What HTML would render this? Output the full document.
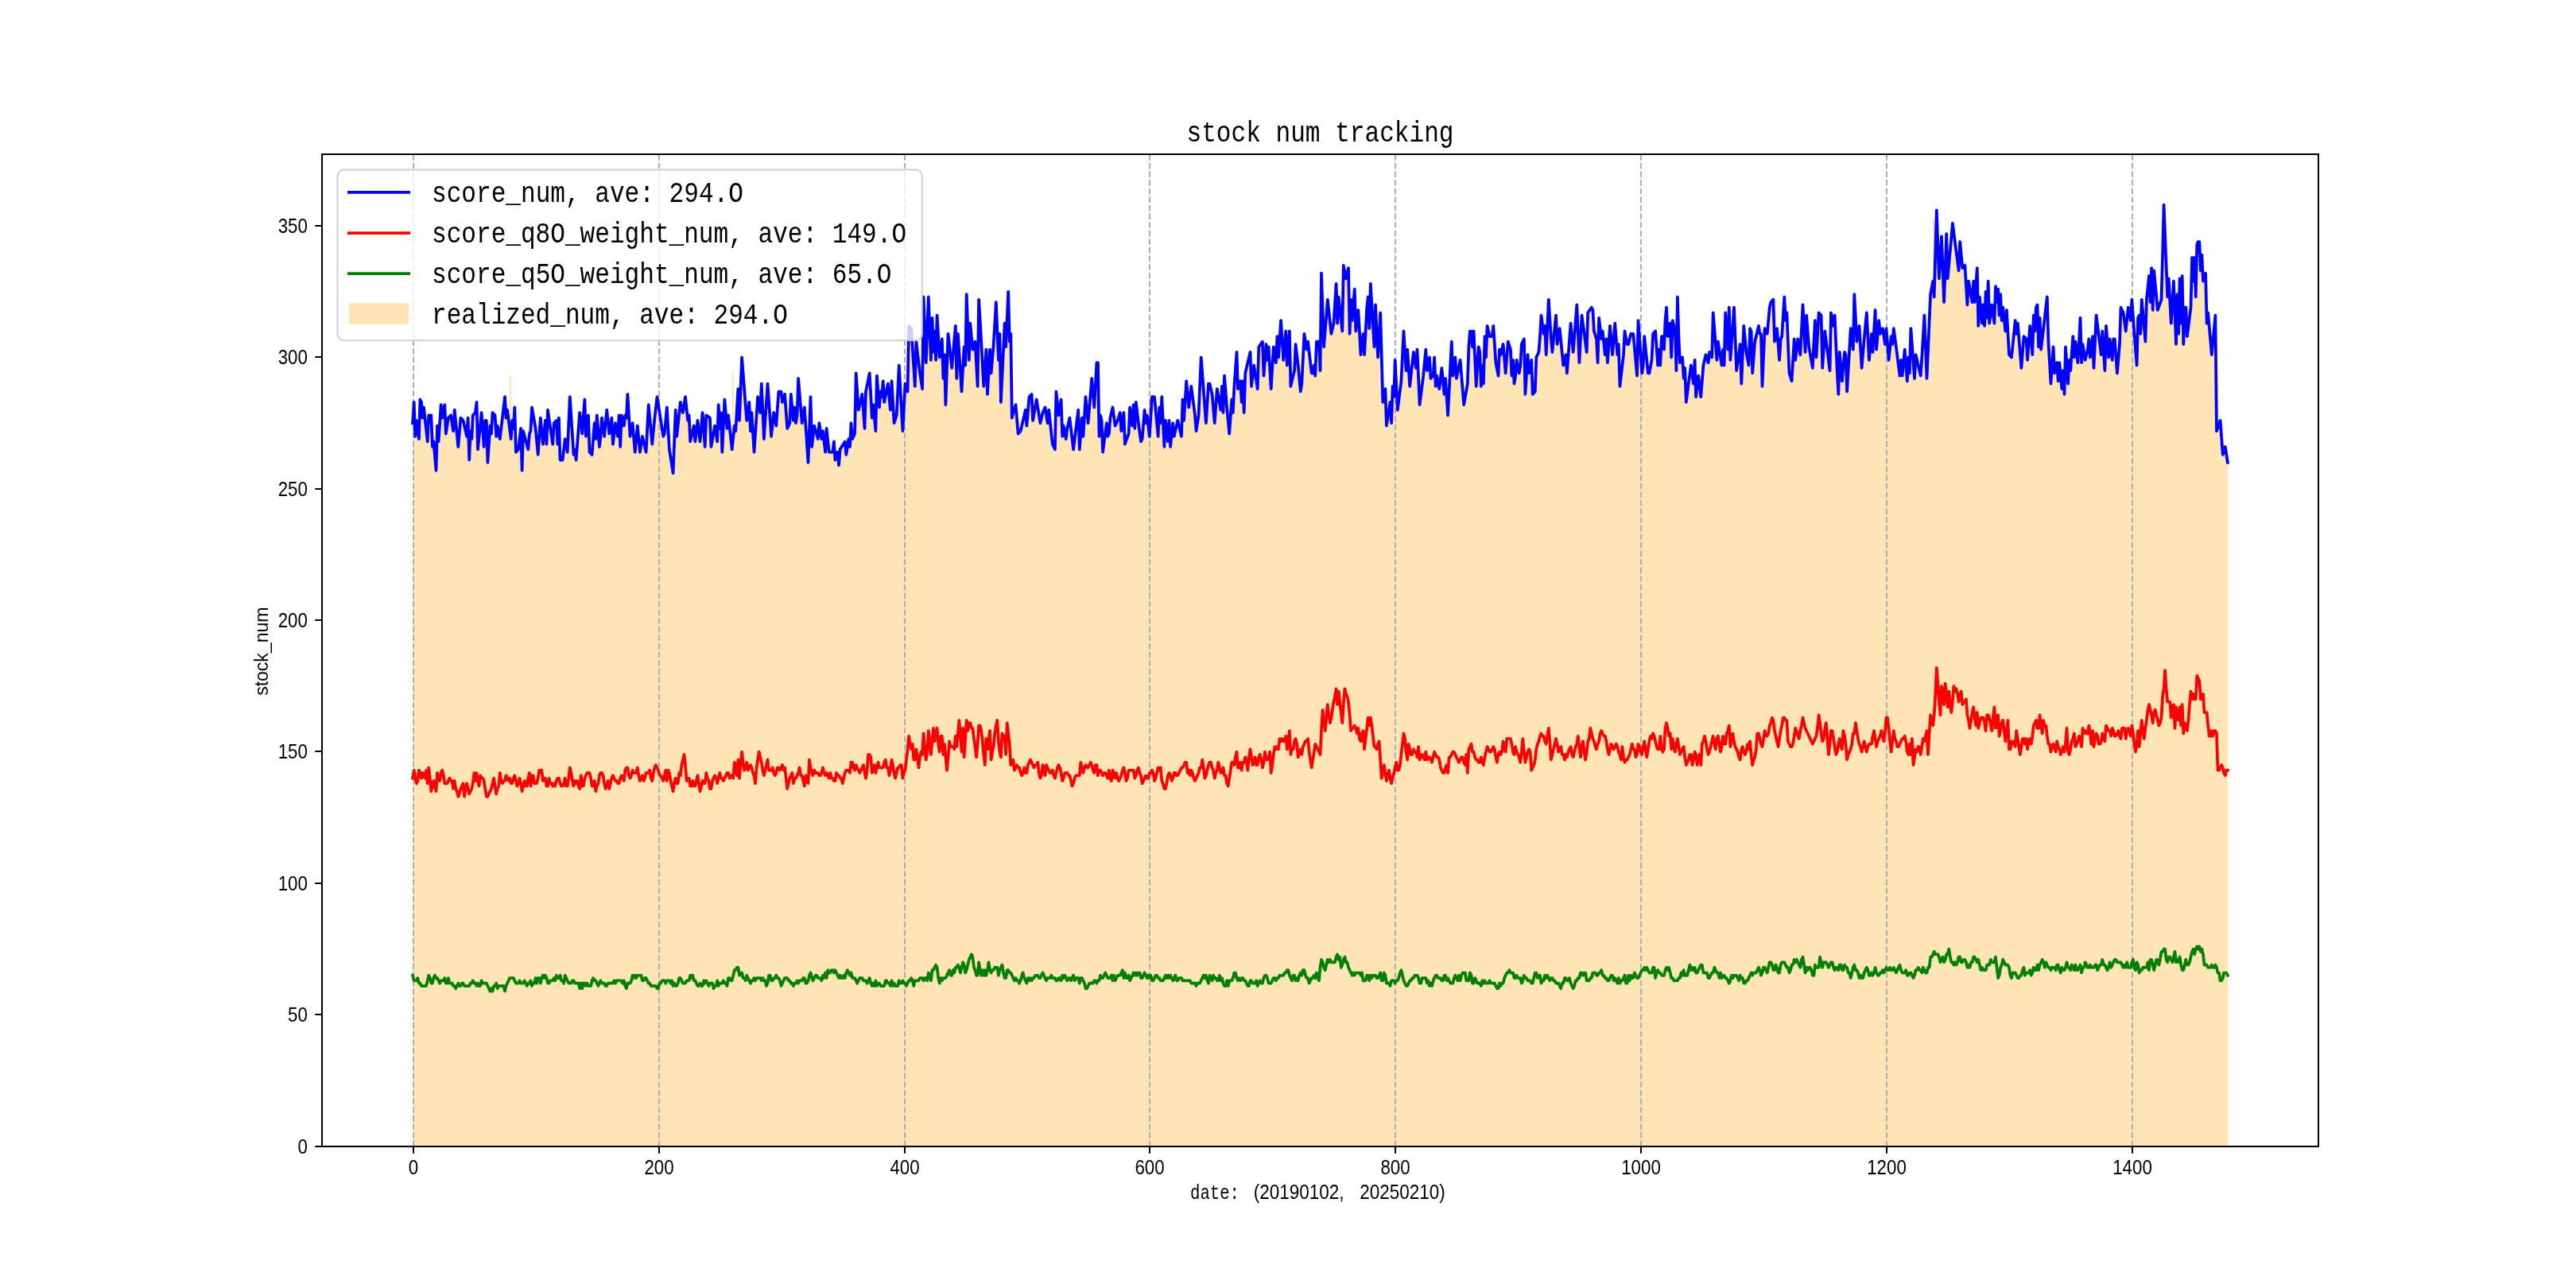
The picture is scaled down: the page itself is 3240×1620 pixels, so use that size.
<!DOCTYPE html><html><head><meta charset="utf-8"><style>html,body{margin:0;padding:0;background:#fff;overflow:hidden}svg{display:block;will-change:transform}</style></head><body><svg width="3240" height="1620" viewBox="0 0 3240 1620">
<rect x="0" y="0" width="3240" height="1620" fill="#ffffff"/>
<defs><clipPath id="ax"><rect x="405.0" y="194.4" width="2511.0" height="1247.6"/></clipPath></defs>
<g clip-path="url(#ax)">
<path d="M519.1,1441.8 L519.1,532.2 520.7,505.8 522.2,548.8 523.8,528.9 526.9,552.1 528.4,502.5 530.0,505.8 531.5,525.6 533.0,512.4 537.7,555.4 539.2,522.3 542.3,522.3 543.9,562.0 545.4,555.4 548.5,591.8 550.0,535.5 551.6,555.4 554.7,509.1 556.2,525.6 559.3,509.1 560.8,545.5 563.9,525.6 567.0,522.3 570.1,542.2 571.7,515.7 576.3,562.0 579.4,525.6 582.5,528.9 587.1,548.8 588.6,525.6 590.2,578.5 591.7,542.2 593.3,552.1 594.8,522.3 597.9,519.0 599.5,505.8 601.0,565.3 605.6,519.0 608.7,562.0 610.3,528.9 611.8,528.9 613.4,581.8 616.4,535.5 618.0,545.5 619.5,519.0 622.6,522.3 624.2,548.8 625.7,535.5 628.8,552.1 635.0,499.2 636.5,525.6 638.1,515.7 642.7,552.1 644.2,528.9 645.8,538.9 647.3,512.4 648.9,568.6 652.0,565.3 655.1,538.9 656.6,591.8 658.1,542.2 664.3,565.3 665.9,545.5 667.4,542.2 669.0,512.4 673.6,538.9 676.7,571.9 679.8,525.6 682.9,558.7 685.9,528.9 687.5,558.7 689.0,515.7 695.2,558.7 696.8,532.2 699.8,528.9 701.4,558.7 702.9,525.6 704.5,578.5 707.6,578.5 710.7,552.1 713.7,568.6 716.8,499.2 721.5,571.9 723.0,565.3 724.6,578.5 729.2,519.0 732.3,545.5 733.8,522.3 735.4,502.5 736.9,548.8 740.0,522.3 741.5,568.6 744.6,571.9 747.7,532.2 749.3,552.1 750.8,522.3 753.9,562.0 755.4,548.8 757.0,525.6 760.1,548.8 763.2,515.7 766.3,545.5 769.3,525.6 770.9,558.7 774.0,532.2 777.1,548.8 778.6,522.3 780.2,562.0 781.7,522.3 784.8,535.5 786.3,522.3 787.9,525.6 789.4,495.9 792.5,548.8 795.6,532.2 798.7,568.6 801.8,535.5 804.9,568.6 808.0,548.8 812.6,568.6 815.7,509.1 820.3,558.7 823.4,525.6 826.5,499.2 834.2,548.8 835.8,545.5 838.8,512.4 841.9,565.3 846.6,595.1 849.7,515.7 851.2,548.8 855.8,505.8 858.9,519.0 862.0,499.2 865.1,528.9 866.6,522.3 868.2,555.4 872.8,535.5 874.4,555.4 877.5,528.9 880.5,555.4 883.6,519.0 886.7,562.0 888.3,522.3 892.9,525.6 894.4,562.0 899.1,535.5 902.2,555.4 903.7,509.1 905.3,538.9 906.8,519.0 908.3,568.6 911.4,502.5 914.5,538.9 916.1,522.3 920.7,565.3 923.8,535.5 925.3,542.2 928.4,489.2 930.0,528.9 933.1,449.5 939.2,528.9 942.3,505.8 943.9,542.2 945.4,519.0 948.5,568.6 953.1,499.2 956.2,519.0 957.8,482.6 960.9,552.1 965.5,482.6 970.1,548.8 973.2,519.0 976.3,535.5 979.4,492.5 982.5,492.5 984.0,505.8 987.1,495.9 990.2,538.9 993.3,532.2 994.8,495.9 997.9,528.9 999.5,512.4 1001.0,532.2 1002.6,522.3 1004.1,476.0 1008.7,532.2 1011.8,512.4 1016.5,581.8 1019.5,499.2 1021.1,562.0 1024.2,535.5 1028.8,552.1 1030.4,532.2 1033.4,552.1 1035.0,542.2 1038.1,568.6 1039.6,538.9 1042.7,568.6 1047.3,568.6 1048.9,555.4 1050.4,578.5 1053.5,568.6 1055.1,585.2 1056.6,565.3 1062.8,555.4 1064.3,571.9 1067.4,552.1 1069.0,562.0 1070.5,532.2 1072.1,552.1 1075.1,545.5 1076.7,469.4 1079.8,515.7 1084.4,495.9 1087.5,538.9 1089.0,492.5 1093.7,469.4 1096.8,525.6 1098.3,509.1 1101.4,542.2 1102.9,472.7 1106.0,512.4 1107.6,492.5 1109.1,499.2 1110.7,479.3 1112.2,505.8 1116.8,482.6 1119.9,515.7 1121.5,479.3 1124.6,532.2 1127.7,522.3 1130.8,459.5 1135.4,542.2 1138.5,482.6 1141.6,492.5 1143.1,409.9 1146.2,413.2 1150.8,485.9 1152.4,429.7 1157.0,469.4 1160.1,489.2 1161.6,373.5 1164.7,456.2 1167.8,373.5 1170.9,452.9 1172.5,399.9 1174.0,442.9 1175.5,416.5 1177.1,452.9 1178.6,396.6 1181.7,449.5 1184.8,426.4 1186.4,476.0 1187.9,446.2 1189.4,509.1 1192.5,419.8 1197.2,462.8 1201.8,409.9 1203.3,476.0 1204.9,419.8 1209.5,492.5 1212.6,436.3 1214.2,459.5 1215.7,370.2 1218.8,452.9 1220.3,406.6 1223.4,439.6 1226.5,429.7 1229.6,485.9 1231.1,376.8 1232.7,403.2 1237.3,485.9 1240.4,439.6 1242.0,495.9 1245.0,439.6 1246.6,469.4 1249.7,433.0 1252.8,380.1 1255.9,452.9 1257.4,419.8 1258.9,505.8 1263.6,406.6 1265.1,436.3 1268.2,366.9 1269.8,429.7 1271.3,419.8 1272.8,525.6 1274.4,519.0 1277.5,509.1 1280.6,545.5 1283.7,542.2 1289.8,515.7 1291.4,535.5 1294.5,499.2 1297.6,495.9 1299.1,528.9 1303.7,502.5 1308.4,532.2 1311.5,519.0 1314.5,512.4 1317.6,532.2 1319.2,515.7 1323.8,558.7 1326.9,565.3 1328.4,492.5 1331.5,522.3 1334.6,502.5 1336.2,548.8 1337.7,535.5 1340.8,552.1 1342.3,538.9 1345.4,525.6 1350.1,565.3 1356.2,515.7 1357.8,565.3 1360.9,525.6 1362.4,548.8 1365.5,499.2 1368.6,532.2 1373.2,476.0 1376.3,512.4 1379.4,456.2 1381.0,456.2 1382.5,548.8 1384.0,522.3 1385.6,528.9 1387.1,568.6 1391.8,532.2 1393.3,548.8 1394.9,545.5 1396.4,525.6 1399.5,512.4 1402.6,535.5 1405.7,528.9 1408.8,519.0 1410.3,542.2 1413.4,519.0 1414.9,558.7 1419.6,545.5 1421.1,512.4 1424.2,535.5 1425.7,509.1 1427.3,538.9 1428.8,505.8 1431.9,532.2 1435.0,555.4 1436.6,552.1 1439.6,515.7 1441.2,532.2 1442.7,522.3 1445.8,548.8 1448.9,499.2 1452.0,499.2 1456.6,548.8 1458.2,512.4 1459.7,532.2 1461.3,499.2 1464.4,562.0 1465.9,528.9 1469.0,555.4 1470.5,528.9 1472.1,562.0 1475.2,532.2 1476.7,548.8 1481.3,528.9 1486.0,548.8 1487.5,502.5 1489.1,528.9 1492.2,479.3 1495.2,512.4 1498.3,485.9 1503.0,522.3 1504.5,542.2 1507.6,522.3 1510.7,449.5 1516.9,532.2 1520.0,482.6 1521.5,482.6 1524.6,495.9 1527.7,532.2 1530.8,489.2 1535.4,515.7 1536.9,485.9 1538.5,519.0 1540.0,472.7 1543.1,512.4 1546.2,545.5 1549.3,502.5 1550.8,519.0 1552.4,485.9 1555.5,442.9 1557.0,489.2 1560.1,479.3 1561.7,505.8 1563.2,479.3 1564.7,519.0 1566.3,469.4 1567.8,462.8 1572.5,442.9 1574.0,485.9 1577.1,459.5 1581.7,489.2 1583.3,436.3 1587.9,429.7 1589.5,472.7 1592.5,433.0 1594.1,452.9 1595.6,436.3 1598.7,489.2 1601.8,436.3 1604.9,456.2 1606.4,423.1 1608.0,449.5 1611.1,403.2 1612.6,426.4 1614.2,452.9 1617.3,416.5 1618.8,459.5 1621.9,416.5 1623.4,485.9 1628.1,466.1 1629.6,433.0 1632.7,459.5 1635.8,492.5 1637.3,482.6 1640.4,419.8 1643.5,439.6 1645.1,429.7 1649.7,469.4 1651.2,469.4 1652.8,459.5 1654.3,472.7 1655.9,429.7 1659.0,429.7 1660.5,466.1 1662.0,343.7 1665.1,436.3 1669.8,376.8 1674.4,419.8 1677.5,406.6 1680.6,356.9 1682.1,406.6 1683.7,373.5 1688.3,416.5 1689.8,333.8 1692.9,350.3 1696.0,337.1 1697.6,419.8 1699.1,376.8 1700.7,403.2 1703.7,363.6 1705.3,416.5 1708.4,390.0 1711.5,446.2 1714.6,419.8 1716.1,446.2 1719.2,386.7 1720.7,373.5 1722.3,413.2 1723.8,356.9 1728.5,436.3 1730.0,383.4 1733.1,449.5 1736.2,393.3 1739.3,505.8 1742.4,489.2 1743.9,535.5 1748.5,505.8 1750.1,532.2 1751.6,485.9 1753.2,499.2 1754.7,452.9 1757.8,515.7 1762.4,479.3 1765.5,416.5 1768.6,466.1 1770.2,439.6 1773.2,485.9 1777.9,442.9 1781.0,462.8 1782.5,439.6 1785.6,509.1 1790.2,472.7 1793.3,439.6 1794.9,466.1 1798.0,449.5 1799.5,476.0 1802.6,472.7 1804.1,449.5 1805.7,485.9 1807.2,472.7 1810.3,489.2 1813.4,462.8 1816.5,495.9 1818.0,476.0 1821.1,522.3 1825.8,429.7 1827.3,472.7 1830.4,449.5 1831.9,476.0 1836.6,452.9 1841.2,509.1 1845.8,482.6 1847.4,436.3 1848.9,416.5 1850.5,416.5 1852.0,436.3 1853.6,416.5 1856.7,485.9 1859.7,436.3 1861.3,442.9 1862.8,485.9 1864.4,459.5 1865.9,482.6 1867.5,423.1 1869.0,449.5 1870.6,409.9 1873.6,423.1 1876.7,423.1 1878.3,409.9 1881.4,456.2 1884.5,472.7 1886.0,439.6 1887.5,446.2 1890.6,433.0 1893.7,469.4 1896.8,429.7 1899.9,439.6 1901.4,472.7 1903.0,452.9 1904.5,482.6 1906.1,472.7 1907.6,452.9 1910.7,469.4 1912.3,459.5 1913.8,433.0 1916.9,426.4 1918.4,495.9 1921.5,446.2 1923.1,469.4 1926.2,452.9 1927.7,495.9 1930.8,492.5 1932.3,449.5 1935.4,442.9 1937.0,423.1 1938.5,396.6 1941.6,419.8 1943.1,409.9 1944.7,446.2 1947.8,376.8 1950.9,426.4 1952.4,442.9 1957.0,396.6 1958.6,433.0 1961.7,413.2 1966.3,459.5 1969.4,446.2 1970.9,469.4 1975.6,406.6 1978.7,442.9 1983.3,383.4 1986.4,456.2 1989.5,396.6 1995.7,442.9 1997.2,393.3 2001.8,386.7 2003.4,390.0 2004.9,416.5 2008.0,426.4 2009.6,456.2 2011.1,399.9 2014.2,426.4 2015.7,416.5 2018.8,446.2 2020.4,426.4 2021.9,456.2 2025.0,409.9 2028.1,446.2 2031.2,406.6 2034.3,446.2 2035.8,433.0 2037.4,485.9 2042.0,446.2 2043.5,416.5 2046.6,433.0 2048.2,433.0 2051.3,419.8 2054.3,419.8 2059.0,472.7 2060.5,403.2 2065.2,469.4 2066.7,459.5 2068.2,423.1 2072.9,469.4 2074.4,469.4 2077.5,452.9 2079.1,419.8 2082.1,416.5 2085.2,459.5 2086.8,439.6 2088.3,459.5 2089.9,423.1 2091.4,423.1 2093.0,439.6 2094.5,403.2 2096.0,386.7 2097.6,423.1 2100.7,406.6 2102.2,449.5 2103.8,403.2 2106.9,416.5 2108.4,466.1 2109.9,373.5 2111.5,426.4 2113.0,456.2 2116.1,449.5 2117.7,476.0 2119.2,462.8 2120.8,505.8 2123.8,482.6 2126.9,459.5 2130.0,482.6 2131.6,452.9 2133.1,499.2 2136.2,472.7 2139.3,499.2 2142.4,459.5 2145.5,446.2 2148.6,456.2 2150.1,442.9 2153.2,449.5 2154.7,393.3 2159.4,452.9 2160.9,429.7 2165.5,459.5 2167.1,439.6 2168.6,459.5 2170.2,393.3 2173.3,439.6 2174.8,386.7 2176.4,452.9 2181.0,386.7 2184.1,466.1 2188.7,433.0 2190.3,482.6 2193.3,409.9 2196.4,442.9 2199.5,459.5 2201.1,413.2 2202.6,416.5 2204.2,469.4 2207.2,429.7 2211.9,409.9 2213.4,419.8 2215.0,419.8 2216.5,485.9 2219.6,413.2 2222.7,419.8 2225.8,386.7 2227.3,380.1 2230.4,376.8 2232.0,429.7 2235.0,413.2 2238.1,452.9 2239.7,426.4 2241.2,423.1 2244.3,373.5 2245.9,403.2 2247.4,393.3 2250.5,469.4 2253.6,479.3 2256.7,426.4 2258.2,452.9 2261.3,426.4 2264.4,446.2 2267.5,383.4 2270.6,442.9 2272.1,396.6 2275.2,436.3 2279.8,462.8 2282.9,403.2 2284.5,449.5 2287.6,393.3 2290.6,396.6 2292.2,462.8 2295.3,416.5 2301.5,466.1 2303.0,393.3 2306.1,409.9 2307.6,396.6 2310.7,466.1 2312.3,495.9 2313.8,442.9 2316.9,479.3 2320.0,442.9 2321.5,446.2 2323.1,492.5 2327.7,413.2 2330.8,439.6 2332.3,370.2 2335.4,429.7 2338.5,409.9 2341.6,462.8 2344.7,426.4 2347.8,393.3 2350.9,452.9 2354.0,419.8 2355.5,442.9 2358.6,390.0 2360.1,439.6 2363.2,403.2 2364.8,419.8 2367.9,413.2 2371.0,433.0 2372.5,413.2 2375.6,452.9 2378.7,423.1 2380.2,433.0 2381.8,413.2 2384.9,436.3 2389.5,472.7 2391.0,452.9 2392.6,472.7 2395.7,439.6 2398.8,479.3 2400.3,449.5 2401.8,469.4 2403.4,413.2 2408.0,476.0 2409.6,446.2 2415.7,472.7 2417.3,449.5 2420.4,396.6 2423.5,476.0 2428.1,370.2 2431.2,353.6 2432.7,373.5 2435.8,264.3 2438.9,350.3 2442.0,297.4 2445.1,380.1 2448.2,294.1 2449.7,350.3 2455.9,280.9 2463.6,340.4 2465.2,304.0 2468.3,337.1 2471.4,333.8 2474.4,383.4 2476.0,353.6 2480.6,380.1 2482.2,353.6 2483.7,380.1 2486.8,337.1 2488.3,409.9 2489.9,373.5 2493.0,406.6 2494.5,383.4 2496.1,409.9 2497.6,366.9 2499.2,399.9 2500.7,353.6 2502.2,406.6 2505.3,383.4 2508.4,406.6 2510.0,360.2 2511.5,380.1 2513.1,363.6 2514.6,396.6 2516.1,370.2 2517.7,403.2 2519.2,386.7 2522.3,416.5 2523.9,390.0 2527.0,446.2 2530.0,449.5 2534.7,403.2 2536.2,419.8 2537.8,406.6 2542.4,462.8 2545.5,423.1 2548.6,426.4 2550.1,452.9 2553.2,409.9 2556.3,446.2 2557.8,396.6 2559.4,416.5 2560.9,386.7 2562.5,383.4 2564.0,436.3 2565.6,399.9 2567.1,439.6 2570.2,413.2 2574.8,373.5 2576.4,429.7 2579.5,482.6 2582.6,436.3 2584.1,469.4 2587.2,456.2 2588.7,479.3 2590.3,456.2 2593.4,489.2 2594.9,466.1 2596.5,495.9 2598.0,436.3 2601.1,482.6 2602.6,452.9 2604.2,466.1 2607.3,423.1 2608.8,449.5 2610.4,429.7 2613.4,456.2 2615.0,429.7 2616.5,399.9 2618.1,456.2 2619.6,433.0 2622.7,452.9 2625.8,439.6 2627.3,426.4 2628.9,449.5 2632.0,423.1 2633.5,462.8 2636.6,396.6 2642.8,446.2 2644.3,416.5 2647.4,466.1 2649.0,409.9 2652.1,449.5 2653.6,426.4 2656.7,452.9 2658.2,426.4 2659.8,426.4 2662.9,469.4 2666.0,433.0 2667.5,386.7 2670.6,393.3 2673.7,416.5 2676.8,386.7 2679.9,403.2 2681.4,376.8 2684.5,419.8 2687.6,459.5 2689.1,399.9 2690.7,396.6 2692.2,419.8 2693.8,376.8 2698.4,429.7 2699.9,376.8 2703.0,347.0 2704.6,380.1 2706.1,337.1 2707.7,390.0 2709.2,340.4 2713.8,390.0 2718.5,376.8 2720.0,323.9 2721.6,257.7 2726.2,373.5 2727.7,350.3 2730.8,406.6 2733.9,353.6 2737.0,433.0 2738.5,370.2 2740.1,419.8 2741.6,350.3 2743.2,406.6 2744.7,347.0 2746.3,433.0 2747.8,386.7 2749.4,386.7 2750.9,423.1 2755.5,386.7 2757.1,323.9 2758.6,353.6 2760.2,323.9 2761.7,373.5 2763.3,307.3 2764.8,304.0 2766.3,304.0 2767.9,340.4 2769.4,320.6 2771.0,353.6 2774.1,343.7 2775.6,406.6 2777.2,393.3 2781.8,446.2 2786.4,396.6 2788.0,542.2 2792.6,528.9 2795.7,571.9 2798.8,562.0 2801.9,581.8 L2801.9,1441.8 Z" fill="#ffe4b5" stroke="none"/>
<path d="M641.0,472.0 h2 V592.0 h-2 Z M920.7,469.0 h2 V589.0 h-2 Z M2431.0,277.0 h2 V397.0 h-2 Z" fill="#ffe4b5" stroke="none"/>
<line x1="520.00" y1="1442.0" x2="520.00" y2="194.4" stroke="#b0b0b0" stroke-width="2" stroke-dasharray="7.4,3.2"/>
<line x1="829.00" y1="1442.0" x2="829.00" y2="194.4" stroke="#b0b0b0" stroke-width="2" stroke-dasharray="7.4,3.2"/>
<line x1="1138.00" y1="1442.0" x2="1138.00" y2="194.4" stroke="#b0b0b0" stroke-width="2" stroke-dasharray="7.4,3.2"/>
<line x1="1446.00" y1="1442.0" x2="1446.00" y2="194.4" stroke="#b0b0b0" stroke-width="2" stroke-dasharray="7.4,3.2"/>
<line x1="1755.00" y1="1442.0" x2="1755.00" y2="194.4" stroke="#b0b0b0" stroke-width="2" stroke-dasharray="7.4,3.2"/>
<line x1="2064.00" y1="1442.0" x2="2064.00" y2="194.4" stroke="#b0b0b0" stroke-width="2" stroke-dasharray="7.4,3.2"/>
<line x1="2373.00" y1="1442.0" x2="2373.00" y2="194.4" stroke="#b0b0b0" stroke-width="2" stroke-dasharray="7.4,3.2"/>
<line x1="2682.00" y1="1442.0" x2="2682.00" y2="194.4" stroke="#b0b0b0" stroke-width="2" stroke-dasharray="7.4,3.2"/>
<path d="M519.1,532.2 520.7,505.8 522.2,548.8 523.8,528.9 526.9,552.1 528.4,502.5 530.0,505.8 531.5,525.6 533.0,512.4 537.7,555.4 539.2,522.3 542.3,522.3 543.9,562.0 545.4,555.4 548.5,591.8 550.0,535.5 551.6,555.4 554.7,509.1 556.2,525.6 559.3,509.1 560.8,545.5 563.9,525.6 567.0,522.3 570.1,542.2 571.7,515.7 576.3,562.0 579.4,525.6 582.5,528.9 587.1,548.8 588.6,525.6 590.2,578.5 591.7,542.2 593.3,552.1 594.8,522.3 597.9,519.0 599.5,505.8 601.0,565.3 605.6,519.0 608.7,562.0 610.3,528.9 611.8,528.9 613.4,581.8 616.4,535.5 618.0,545.5 619.5,519.0 622.6,522.3 624.2,548.8 625.7,535.5 628.8,552.1 635.0,499.2 636.5,525.6 638.1,515.7 642.7,552.1 644.2,528.9 645.8,538.9 647.3,512.4 648.9,568.6 652.0,565.3 655.1,538.9 656.6,591.8 658.1,542.2 664.3,565.3 665.9,545.5 667.4,542.2 669.0,512.4 673.6,538.9 676.7,571.9 679.8,525.6 682.9,558.7 685.9,528.9 687.5,558.7 689.0,515.7 695.2,558.7 696.8,532.2 699.8,528.9 701.4,558.7 702.9,525.6 704.5,578.5 707.6,578.5 710.7,552.1 713.7,568.6 716.8,499.2 721.5,571.9 723.0,565.3 724.6,578.5 729.2,519.0 732.3,545.5 733.8,522.3 735.4,502.5 736.9,548.8 740.0,522.3 741.5,568.6 744.6,571.9 747.7,532.2 749.3,552.1 750.8,522.3 753.9,562.0 755.4,548.8 757.0,525.6 760.1,548.8 763.2,515.7 766.3,545.5 769.3,525.6 770.9,558.7 774.0,532.2 777.1,548.8 778.6,522.3 780.2,562.0 781.7,522.3 784.8,535.5 786.3,522.3 787.9,525.6 789.4,495.9 792.5,548.8 795.6,532.2 798.7,568.6 801.8,535.5 804.9,568.6 808.0,548.8 812.6,568.6 815.7,509.1 820.3,558.7 823.4,525.6 826.5,499.2 834.2,548.8 835.8,545.5 838.8,512.4 841.9,565.3 846.6,595.1 849.7,515.7 851.2,548.8 855.8,505.8 858.9,519.0 862.0,499.2 865.1,528.9 866.6,522.3 868.2,555.4 872.8,535.5 874.4,555.4 877.5,528.9 880.5,555.4 883.6,519.0 886.7,562.0 888.3,522.3 892.9,525.6 894.4,562.0 899.1,535.5 902.2,555.4 903.7,509.1 905.3,538.9 906.8,519.0 908.3,568.6 911.4,502.5 914.5,538.9 916.1,522.3 920.7,565.3 923.8,535.5 925.3,542.2 928.4,489.2 930.0,528.9 933.1,449.5 939.2,528.9 942.3,505.8 943.9,542.2 945.4,519.0 948.5,568.6 953.1,499.2 956.2,519.0 957.8,482.6 960.9,552.1 965.5,482.6 970.1,548.8 973.2,519.0 976.3,535.5 979.4,492.5 982.5,492.5 984.0,505.8 987.1,495.9 990.2,538.9 993.3,532.2 994.8,495.9 997.9,528.9 999.5,512.4 1001.0,532.2 1002.6,522.3 1004.1,476.0 1008.7,532.2 1011.8,512.4 1016.5,581.8 1019.5,499.2 1021.1,562.0 1024.2,535.5 1028.8,552.1 1030.4,532.2 1033.4,552.1 1035.0,542.2 1038.1,568.6 1039.6,538.9 1042.7,568.6 1047.3,568.6 1048.9,555.4 1050.4,578.5 1053.5,568.6 1055.1,585.2 1056.6,565.3 1062.8,555.4 1064.3,571.9 1067.4,552.1 1069.0,562.0 1070.5,532.2 1072.1,552.1 1075.1,545.5 1076.7,469.4 1079.8,515.7 1084.4,495.9 1087.5,538.9 1089.0,492.5 1093.7,469.4 1096.8,525.6 1098.3,509.1 1101.4,542.2 1102.9,472.7 1106.0,512.4 1107.6,492.5 1109.1,499.2 1110.7,479.3 1112.2,505.8 1116.8,482.6 1119.9,515.7 1121.5,479.3 1124.6,532.2 1127.7,522.3 1130.8,459.5 1135.4,542.2 1138.5,482.6 1141.6,492.5 1143.1,409.9 1146.2,413.2 1150.8,485.9 1152.4,429.7 1157.0,469.4 1160.1,489.2 1161.6,373.5 1164.7,456.2 1167.8,373.5 1170.9,452.9 1172.5,399.9 1174.0,442.9 1175.5,416.5 1177.1,452.9 1178.6,396.6 1181.7,449.5 1184.8,426.4 1186.4,476.0 1187.9,446.2 1189.4,509.1 1192.5,419.8 1197.2,462.8 1201.8,409.9 1203.3,476.0 1204.9,419.8 1209.5,492.5 1212.6,436.3 1214.2,459.5 1215.7,370.2 1218.8,452.9 1220.3,406.6 1223.4,439.6 1226.5,429.7 1229.6,485.9 1231.1,376.8 1232.7,403.2 1237.3,485.9 1240.4,439.6 1242.0,495.9 1245.0,439.6 1246.6,469.4 1249.7,433.0 1252.8,380.1 1255.9,452.9 1257.4,419.8 1258.9,505.8 1263.6,406.6 1265.1,436.3 1268.2,366.9 1269.8,429.7 1271.3,419.8 1272.8,525.6 1274.4,519.0 1277.5,509.1 1280.6,545.5 1283.7,542.2 1289.8,515.7 1291.4,535.5 1294.5,499.2 1297.6,495.9 1299.1,528.9 1303.7,502.5 1308.4,532.2 1311.5,519.0 1314.5,512.4 1317.6,532.2 1319.2,515.7 1323.8,558.7 1326.9,565.3 1328.4,492.5 1331.5,522.3 1334.6,502.5 1336.2,548.8 1337.7,535.5 1340.8,552.1 1342.3,538.9 1345.4,525.6 1350.1,565.3 1356.2,515.7 1357.8,565.3 1360.9,525.6 1362.4,548.8 1365.5,499.2 1368.6,532.2 1373.2,476.0 1376.3,512.4 1379.4,456.2 1381.0,456.2 1382.5,548.8 1384.0,522.3 1385.6,528.9 1387.1,568.6 1391.8,532.2 1393.3,548.8 1394.9,545.5 1396.4,525.6 1399.5,512.4 1402.6,535.5 1405.7,528.9 1408.8,519.0 1410.3,542.2 1413.4,519.0 1414.9,558.7 1419.6,545.5 1421.1,512.4 1424.2,535.5 1425.7,509.1 1427.3,538.9 1428.8,505.8 1431.9,532.2 1435.0,555.4 1436.6,552.1 1439.6,515.7 1441.2,532.2 1442.7,522.3 1445.8,548.8 1448.9,499.2 1452.0,499.2 1456.6,548.8 1458.2,512.4 1459.7,532.2 1461.3,499.2 1464.4,562.0 1465.9,528.9 1469.0,555.4 1470.5,528.9 1472.1,562.0 1475.2,532.2 1476.7,548.8 1481.3,528.9 1486.0,548.8 1487.5,502.5 1489.1,528.9 1492.2,479.3 1495.2,512.4 1498.3,485.9 1503.0,522.3 1504.5,542.2 1507.6,522.3 1510.7,449.5 1516.9,532.2 1520.0,482.6 1521.5,482.6 1524.6,495.9 1527.7,532.2 1530.8,489.2 1535.4,515.7 1536.9,485.9 1538.5,519.0 1540.0,472.7 1543.1,512.4 1546.2,545.5 1549.3,502.5 1550.8,519.0 1552.4,485.9 1555.5,442.9 1557.0,489.2 1560.1,479.3 1561.7,505.8 1563.2,479.3 1564.7,519.0 1566.3,469.4 1567.8,462.8 1572.5,442.9 1574.0,485.9 1577.1,459.5 1581.7,489.2 1583.3,436.3 1587.9,429.7 1589.5,472.7 1592.5,433.0 1594.1,452.9 1595.6,436.3 1598.7,489.2 1601.8,436.3 1604.9,456.2 1606.4,423.1 1608.0,449.5 1611.1,403.2 1612.6,426.4 1614.2,452.9 1617.3,416.5 1618.8,459.5 1621.9,416.5 1623.4,485.9 1628.1,466.1 1629.6,433.0 1632.7,459.5 1635.8,492.5 1637.3,482.6 1640.4,419.8 1643.5,439.6 1645.1,429.7 1649.7,469.4 1651.2,469.4 1652.8,459.5 1654.3,472.7 1655.9,429.7 1659.0,429.7 1660.5,466.1 1662.0,343.7 1665.1,436.3 1669.8,376.8 1674.4,419.8 1677.5,406.6 1680.6,356.9 1682.1,406.6 1683.7,373.5 1688.3,416.5 1689.8,333.8 1692.9,350.3 1696.0,337.1 1697.6,419.8 1699.1,376.8 1700.7,403.2 1703.7,363.6 1705.3,416.5 1708.4,390.0 1711.5,446.2 1714.6,419.8 1716.1,446.2 1719.2,386.7 1720.7,373.5 1722.3,413.2 1723.8,356.9 1728.5,436.3 1730.0,383.4 1733.1,449.5 1736.2,393.3 1739.3,505.8 1742.4,489.2 1743.9,535.5 1748.5,505.8 1750.1,532.2 1751.6,485.9 1753.2,499.2 1754.7,452.9 1757.8,515.7 1762.4,479.3 1765.5,416.5 1768.6,466.1 1770.2,439.6 1773.2,485.9 1777.9,442.9 1781.0,462.8 1782.5,439.6 1785.6,509.1 1790.2,472.7 1793.3,439.6 1794.9,466.1 1798.0,449.5 1799.5,476.0 1802.6,472.7 1804.1,449.5 1805.7,485.9 1807.2,472.7 1810.3,489.2 1813.4,462.8 1816.5,495.9 1818.0,476.0 1821.1,522.3 1825.8,429.7 1827.3,472.7 1830.4,449.5 1831.9,476.0 1836.6,452.9 1841.2,509.1 1845.8,482.6 1847.4,436.3 1848.9,416.5 1850.5,416.5 1852.0,436.3 1853.6,416.5 1856.7,485.9 1859.7,436.3 1861.3,442.9 1862.8,485.9 1864.4,459.5 1865.9,482.6 1867.5,423.1 1869.0,449.5 1870.6,409.9 1873.6,423.1 1876.7,423.1 1878.3,409.9 1881.4,456.2 1884.5,472.7 1886.0,439.6 1887.5,446.2 1890.6,433.0 1893.7,469.4 1896.8,429.7 1899.9,439.6 1901.4,472.7 1903.0,452.9 1904.5,482.6 1906.1,472.7 1907.6,452.9 1910.7,469.4 1912.3,459.5 1913.8,433.0 1916.9,426.4 1918.4,495.9 1921.5,446.2 1923.1,469.4 1926.2,452.9 1927.7,495.9 1930.8,492.5 1932.3,449.5 1935.4,442.9 1937.0,423.1 1938.5,396.6 1941.6,419.8 1943.1,409.9 1944.7,446.2 1947.8,376.8 1950.9,426.4 1952.4,442.9 1957.0,396.6 1958.6,433.0 1961.7,413.2 1966.3,459.5 1969.4,446.2 1970.9,469.4 1975.6,406.6 1978.7,442.9 1983.3,383.4 1986.4,456.2 1989.5,396.6 1995.7,442.9 1997.2,393.3 2001.8,386.7 2003.4,390.0 2004.9,416.5 2008.0,426.4 2009.6,456.2 2011.1,399.9 2014.2,426.4 2015.7,416.5 2018.8,446.2 2020.4,426.4 2021.9,456.2 2025.0,409.9 2028.1,446.2 2031.2,406.6 2034.3,446.2 2035.8,433.0 2037.4,485.9 2042.0,446.2 2043.5,416.5 2046.6,433.0 2048.2,433.0 2051.3,419.8 2054.3,419.8 2059.0,472.7 2060.5,403.2 2065.2,469.4 2066.7,459.5 2068.2,423.1 2072.9,469.4 2074.4,469.4 2077.5,452.9 2079.1,419.8 2082.1,416.5 2085.2,459.5 2086.8,439.6 2088.3,459.5 2089.9,423.1 2091.4,423.1 2093.0,439.6 2094.5,403.2 2096.0,386.7 2097.6,423.1 2100.7,406.6 2102.2,449.5 2103.8,403.2 2106.9,416.5 2108.4,466.1 2109.9,373.5 2111.5,426.4 2113.0,456.2 2116.1,449.5 2117.7,476.0 2119.2,462.8 2120.8,505.8 2123.8,482.6 2126.9,459.5 2130.0,482.6 2131.6,452.9 2133.1,499.2 2136.2,472.7 2139.3,499.2 2142.4,459.5 2145.5,446.2 2148.6,456.2 2150.1,442.9 2153.2,449.5 2154.7,393.3 2159.4,452.9 2160.9,429.7 2165.5,459.5 2167.1,439.6 2168.6,459.5 2170.2,393.3 2173.3,439.6 2174.8,386.7 2176.4,452.9 2181.0,386.7 2184.1,466.1 2188.7,433.0 2190.3,482.6 2193.3,409.9 2196.4,442.9 2199.5,459.5 2201.1,413.2 2202.6,416.5 2204.2,469.4 2207.2,429.7 2211.9,409.9 2213.4,419.8 2215.0,419.8 2216.5,485.9 2219.6,413.2 2222.7,419.8 2225.8,386.7 2227.3,380.1 2230.4,376.8 2232.0,429.7 2235.0,413.2 2238.1,452.9 2239.7,426.4 2241.2,423.1 2244.3,373.5 2245.9,403.2 2247.4,393.3 2250.5,469.4 2253.6,479.3 2256.7,426.4 2258.2,452.9 2261.3,426.4 2264.4,446.2 2267.5,383.4 2270.6,442.9 2272.1,396.6 2275.2,436.3 2279.8,462.8 2282.9,403.2 2284.5,449.5 2287.6,393.3 2290.6,396.6 2292.2,462.8 2295.3,416.5 2301.5,466.1 2303.0,393.3 2306.1,409.9 2307.6,396.6 2310.7,466.1 2312.3,495.9 2313.8,442.9 2316.9,479.3 2320.0,442.9 2321.5,446.2 2323.1,492.5 2327.7,413.2 2330.8,439.6 2332.3,370.2 2335.4,429.7 2338.5,409.9 2341.6,462.8 2344.7,426.4 2347.8,393.3 2350.9,452.9 2354.0,419.8 2355.5,442.9 2358.6,390.0 2360.1,439.6 2363.2,403.2 2364.8,419.8 2367.9,413.2 2371.0,433.0 2372.5,413.2 2375.6,452.9 2378.7,423.1 2380.2,433.0 2381.8,413.2 2384.9,436.3 2389.5,472.7 2391.0,452.9 2392.6,472.7 2395.7,439.6 2398.8,479.3 2400.3,449.5 2401.8,469.4 2403.4,413.2 2408.0,476.0 2409.6,446.2 2415.7,472.7 2417.3,449.5 2420.4,396.6 2423.5,476.0 2428.1,370.2 2431.2,353.6 2432.7,373.5 2435.8,264.3 2438.9,350.3 2442.0,297.4 2445.1,380.1 2448.2,294.1 2449.7,350.3 2455.9,280.9 2463.6,340.4 2465.2,304.0 2468.3,337.1 2471.4,333.8 2474.4,383.4 2476.0,353.6 2480.6,380.1 2482.2,353.6 2483.7,380.1 2486.8,337.1 2488.3,409.9 2489.9,373.5 2493.0,406.6 2494.5,383.4 2496.1,409.9 2497.6,366.9 2499.2,399.9 2500.7,353.6 2502.2,406.6 2505.3,383.4 2508.4,406.6 2510.0,360.2 2511.5,380.1 2513.1,363.6 2514.6,396.6 2516.1,370.2 2517.7,403.2 2519.2,386.7 2522.3,416.5 2523.9,390.0 2527.0,446.2 2530.0,449.5 2534.7,403.2 2536.2,419.8 2537.8,406.6 2542.4,462.8 2545.5,423.1 2548.6,426.4 2550.1,452.9 2553.2,409.9 2556.3,446.2 2557.8,396.6 2559.4,416.5 2560.9,386.7 2562.5,383.4 2564.0,436.3 2565.6,399.9 2567.1,439.6 2570.2,413.2 2574.8,373.5 2576.4,429.7 2579.5,482.6 2582.6,436.3 2584.1,469.4 2587.2,456.2 2588.7,479.3 2590.3,456.2 2593.4,489.2 2594.9,466.1 2596.5,495.9 2598.0,436.3 2601.1,482.6 2602.6,452.9 2604.2,466.1 2607.3,423.1 2608.8,449.5 2610.4,429.7 2613.4,456.2 2615.0,429.7 2616.5,399.9 2618.1,456.2 2619.6,433.0 2622.7,452.9 2625.8,439.6 2627.3,426.4 2628.9,449.5 2632.0,423.1 2633.5,462.8 2636.6,396.6 2642.8,446.2 2644.3,416.5 2647.4,466.1 2649.0,409.9 2652.1,449.5 2653.6,426.4 2656.7,452.9 2658.2,426.4 2659.8,426.4 2662.9,469.4 2666.0,433.0 2667.5,386.7 2670.6,393.3 2673.7,416.5 2676.8,386.7 2679.9,403.2 2681.4,376.8 2684.5,419.8 2687.6,459.5 2689.1,399.9 2690.7,396.6 2692.2,419.8 2693.8,376.8 2698.4,429.7 2699.9,376.8 2703.0,347.0 2704.6,380.1 2706.1,337.1 2707.7,390.0 2709.2,340.4 2713.8,390.0 2718.5,376.8 2720.0,323.9 2721.6,257.7 2726.2,373.5 2727.7,350.3 2730.8,406.6 2733.9,353.6 2737.0,433.0 2738.5,370.2 2740.1,419.8 2741.6,350.3 2743.2,406.6 2744.7,347.0 2746.3,433.0 2747.8,386.7 2749.4,386.7 2750.9,423.1 2755.5,386.7 2757.1,323.9 2758.6,353.6 2760.2,323.9 2761.7,373.5 2763.3,307.3 2764.8,304.0 2766.3,304.0 2767.9,340.4 2769.4,320.6 2771.0,353.6 2774.1,343.7 2775.6,406.6 2777.2,393.3 2781.8,446.2 2786.4,396.6 2788.0,542.2 2792.6,528.9 2795.7,571.9 2798.8,562.0 2801.9,581.8" fill="none" stroke="#0000ff" stroke-width="3.75" stroke-linejoin="round" stroke-linecap="square"/>
<path d="M519.1,978.8 520.7,968.8 522.2,978.8 523.8,985.4 525.3,982.1 526.9,968.8 528.4,972.1 530.0,978.8 531.5,972.1 533.0,975.4 534.6,978.8 536.1,968.8 537.7,985.4 539.2,965.5 540.8,978.8 542.3,995.3 543.9,988.7 545.4,982.1 546.9,988.7 548.5,995.3 550.0,972.1 551.6,978.8 553.1,982.1 554.7,972.1 556.2,968.8 557.8,975.4 559.3,985.4 560.8,985.4 562.4,985.4 563.9,982.1 565.5,978.8 567.0,982.1 568.6,982.1 570.1,992.0 571.7,982.1 573.2,992.0 574.7,995.3 576.3,1001.9 577.8,998.6 579.4,992.0 580.9,988.7 582.5,985.4 584.0,1001.9 585.6,992.0 587.1,985.4 588.6,992.0 590.2,998.6 591.7,995.3 593.3,992.0 594.8,985.4 596.4,972.1 597.9,982.1 599.5,972.1 601.0,982.1 602.5,988.7 604.1,975.4 605.6,978.8 607.2,978.8 608.7,982.1 610.3,992.0 611.8,1001.9 613.4,1001.9 614.9,998.6 616.4,995.3 618.0,992.0 619.5,985.4 621.1,978.8 622.6,988.7 624.2,998.6 625.7,992.0 627.3,988.7 628.8,972.1 630.3,982.1 631.9,985.4 633.4,982.1 635.0,982.1 636.5,975.4 638.1,978.8 639.6,982.1 641.2,978.8 642.7,985.4 644.2,985.4 645.8,978.8 647.3,975.4 648.9,982.1 650.4,988.7 652.0,985.4 653.5,978.8 655.1,985.4 656.6,995.3 658.1,988.7 659.7,982.1 661.2,988.7 662.8,988.7 664.3,978.8 665.9,972.1 667.4,988.7 669.0,975.4 670.5,975.4 672.0,985.4 673.6,985.4 675.1,985.4 676.7,978.8 678.2,968.8 679.8,972.1 681.3,968.8 682.9,982.1 684.4,978.8 685.9,978.8 687.5,988.7 689.0,988.7 690.6,978.8 692.1,985.4 693.7,985.4 695.2,988.7 696.8,985.4 698.3,988.7 699.8,982.1 701.4,978.8 702.9,978.8 704.5,985.4 706.0,988.7 707.6,988.7 709.1,985.4 710.7,978.8 712.2,988.7 713.7,988.7 715.3,978.8 716.8,965.5 718.4,972.1 719.9,982.1 721.5,988.7 723.0,982.1 724.6,985.4 726.1,982.1 727.6,988.7 729.2,992.0 730.7,975.4 732.3,988.7 733.8,988.7 735.4,978.8 736.9,975.4 738.5,972.1 740.0,972.1 741.5,972.1 743.1,978.8 744.6,988.7 746.2,988.7 747.7,982.1 749.3,995.3 750.8,988.7 752.4,985.4 753.9,975.4 755.4,972.1 757.0,972.1 758.5,975.4 760.1,985.4 761.6,992.0 763.2,988.7 764.7,982.1 766.3,992.0 767.8,985.4 769.3,978.8 770.9,975.4 772.4,978.8 774.0,982.1 775.5,982.1 777.1,985.4 778.6,985.4 780.2,978.8 781.7,975.4 783.2,978.8 784.8,982.1 786.3,968.8 787.9,965.5 789.4,965.5 791.0,975.4 792.5,978.8 794.1,975.4 795.6,968.8 797.1,972.1 798.7,972.1 800.2,972.1 801.8,965.5 803.3,975.4 804.9,982.1 806.4,978.8 808.0,975.4 809.5,982.1 811.0,978.8 812.6,972.1 814.1,972.1 815.7,972.1 817.2,968.8 818.8,978.8 820.3,982.1 821.9,972.1 823.4,965.5 824.9,962.2 826.5,965.5 828.0,968.8 829.6,975.4 831.1,975.4 832.7,978.8 834.2,982.1 835.8,975.4 837.3,968.8 838.8,982.1 840.4,968.8 841.9,972.1 843.5,982.1 845.0,988.7 846.6,995.3 848.1,985.4 849.7,978.8 851.2,985.4 852.7,985.4 854.3,972.1 855.8,975.4 857.4,962.2 858.9,955.6 860.5,949.0 862.0,962.2 863.6,982.1 865.1,978.8 866.6,978.8 868.2,988.7 869.7,988.7 871.3,982.1 872.8,988.7 874.4,988.7 875.9,982.1 877.5,975.4 879.0,985.4 880.5,995.3 882.1,988.7 883.6,982.1 885.2,985.4 886.7,985.4 888.3,972.1 889.8,978.8 891.4,982.1 892.9,992.0 894.4,992.0 896.0,982.1 897.5,978.8 899.1,975.4 900.6,978.8 902.2,985.4 903.7,978.8 905.3,972.1 906.8,978.8 908.3,978.8 909.9,982.1 911.4,978.8 913.0,975.4 914.5,972.1 916.1,972.1 917.6,978.8 919.2,975.4 920.7,975.4 922.2,978.8 923.8,958.9 925.3,965.5 926.9,975.4 928.4,955.6 930.0,978.8 931.5,962.2 933.1,945.7 934.6,958.9 936.1,968.8 937.7,965.5 939.2,958.9 940.8,968.8 942.3,965.5 943.9,962.2 945.4,965.5 947.0,972.1 948.5,975.4 950.0,985.4 951.6,965.5 953.1,955.6 954.7,945.7 956.2,952.3 957.8,958.9 959.3,968.8 960.9,975.4 962.4,968.8 963.9,962.2 965.5,955.6 967.0,968.8 968.6,968.8 970.1,968.8 971.7,965.5 973.2,972.1 974.8,975.4 976.3,972.1 977.8,965.5 979.4,965.5 980.9,968.8 982.5,965.5 984.0,962.2 985.6,968.8 987.1,965.5 988.7,978.8 990.2,992.0 991.7,985.4 993.3,978.8 994.8,975.4 996.4,972.1 997.9,985.4 999.5,978.8 1001.0,978.8 1002.6,975.4 1004.1,972.1 1005.6,965.5 1007.2,975.4 1008.7,975.4 1010.3,982.1 1011.8,988.7 1013.4,975.4 1014.9,978.8 1016.5,985.4 1018.0,955.6 1019.5,965.5 1021.1,972.1 1022.6,975.4 1024.2,968.8 1025.7,972.1 1027.3,972.1 1028.8,972.1 1030.4,975.4 1031.9,975.4 1033.4,972.1 1035.0,965.5 1036.5,972.1 1038.1,975.4 1039.6,972.1 1041.2,975.4 1042.7,978.8 1044.3,972.1 1045.8,978.8 1047.3,978.8 1048.9,982.1 1050.4,982.1 1052.0,972.1 1053.5,975.4 1055.1,975.4 1056.6,978.8 1058.2,978.8 1059.7,985.4 1061.2,978.8 1062.8,972.1 1064.3,968.8 1065.9,968.8 1067.4,968.8 1069.0,972.1 1070.5,958.9 1072.1,958.9 1073.6,965.5 1075.1,968.8 1076.7,962.2 1078.2,965.5 1079.8,968.8 1081.3,972.1 1082.9,968.8 1084.4,965.5 1086.0,962.2 1087.5,972.1 1089.0,978.8 1090.6,968.8 1092.1,949.0 1093.7,949.0 1095.2,952.3 1096.8,972.1 1098.3,965.5 1099.9,962.2 1101.4,972.1 1102.9,965.5 1104.5,958.9 1106.0,965.5 1107.6,965.5 1109.1,965.5 1110.7,965.5 1112.2,958.9 1113.8,955.6 1115.3,965.5 1116.8,965.5 1118.4,975.4 1119.9,968.8 1121.5,955.6 1123.0,962.2 1124.6,972.1 1126.1,978.8 1127.7,972.1 1129.2,965.5 1130.8,965.5 1132.3,962.2 1133.8,962.2 1135.4,978.8 1136.9,972.1 1138.5,968.8 1140.0,955.6 1141.6,942.4 1143.1,925.8 1144.7,935.8 1146.2,942.4 1147.7,935.8 1149.3,955.6 1150.8,955.6 1152.4,942.4 1153.9,952.3 1155.5,965.5 1157.0,952.3 1158.6,945.7 1160.1,949.0 1161.6,922.5 1163.2,942.4 1164.7,955.6 1166.3,945.7 1167.8,919.2 1169.4,932.4 1170.9,949.0 1172.5,932.4 1174.0,915.9 1175.5,932.4 1177.1,922.5 1178.6,915.9 1180.2,935.8 1181.7,945.7 1183.3,925.8 1184.8,925.8 1186.4,949.0 1187.9,935.8 1189.4,952.3 1191.0,968.8 1192.5,952.3 1194.1,932.4 1195.6,939.1 1197.2,939.1 1198.7,939.1 1200.3,942.4 1201.8,925.8 1203.3,939.1 1204.9,922.5 1206.4,906.0 1208.0,925.8 1209.5,945.7 1211.1,915.9 1212.6,952.3 1214.2,929.1 1215.7,906.0 1217.2,919.2 1218.8,909.3 1220.3,909.3 1221.9,915.9 1223.4,915.9 1225.0,929.1 1226.5,939.1 1228.1,952.3 1229.6,935.8 1231.1,912.6 1232.7,912.6 1234.2,919.2 1235.8,932.4 1237.3,949.0 1238.9,962.2 1240.4,929.1 1242.0,942.4 1243.5,932.4 1245.0,919.2 1246.6,955.6 1248.1,945.7 1249.7,939.1 1251.2,922.5 1252.8,912.6 1254.3,906.0 1255.9,932.4 1257.4,945.7 1258.9,952.3 1260.5,922.5 1262.0,925.8 1263.6,925.8 1265.1,949.0 1266.7,909.3 1268.2,922.5 1269.8,935.8 1271.3,962.2 1272.8,958.9 1274.4,955.6 1275.9,968.8 1277.5,965.5 1279.0,962.2 1280.6,965.5 1282.1,965.5 1283.7,972.1 1285.2,975.4 1286.7,972.1 1288.3,965.5 1289.8,972.1 1291.4,972.1 1292.9,962.2 1294.5,958.9 1296.0,955.6 1297.6,958.9 1299.1,962.2 1300.6,965.5 1302.2,962.2 1303.7,962.2 1305.3,958.9 1306.8,972.1 1308.4,978.8 1309.9,975.4 1311.5,962.2 1313.0,965.5 1314.5,975.4 1316.1,962.2 1317.6,965.5 1319.2,968.8 1320.7,972.1 1322.3,972.1 1323.8,968.8 1325.4,975.4 1326.9,978.8 1328.4,972.1 1330.0,965.5 1331.5,962.2 1333.1,965.5 1334.6,972.1 1336.2,982.1 1337.7,978.8 1339.3,972.1 1340.8,972.1 1342.3,972.1 1343.9,975.4 1345.4,975.4 1347.0,982.1 1348.5,988.7 1350.1,985.4 1351.6,978.8 1353.2,975.4 1354.7,975.4 1356.2,975.4 1357.8,975.4 1359.3,958.9 1360.9,965.5 1362.4,972.1 1364.0,965.5 1365.5,962.2 1367.1,965.5 1368.6,965.5 1370.1,962.2 1371.7,958.9 1373.2,962.2 1374.8,968.8 1376.3,972.1 1377.9,962.2 1379.4,962.2 1381.0,975.4 1382.5,968.8 1384.0,968.8 1385.6,972.1 1387.1,975.4 1388.7,972.1 1390.2,972.1 1391.8,975.4 1393.3,978.8 1394.9,968.8 1396.4,978.8 1397.9,982.1 1399.5,968.8 1401.0,972.1 1402.6,978.8 1404.1,972.1 1405.7,978.8 1407.2,982.1 1408.8,978.8 1410.3,975.4 1411.8,968.8 1413.4,965.5 1414.9,972.1 1416.5,982.1 1418.0,978.8 1419.6,968.8 1421.1,968.8 1422.7,968.8 1424.2,968.8 1425.7,968.8 1427.3,978.8 1428.8,975.4 1430.4,968.8 1431.9,965.5 1433.5,972.1 1435.0,975.4 1436.6,985.4 1438.1,982.1 1439.6,978.8 1441.2,975.4 1442.7,978.8 1444.3,978.8 1445.8,972.1 1447.4,972.1 1448.9,968.8 1450.5,972.1 1452.0,982.1 1453.5,978.8 1455.1,972.1 1456.6,965.5 1458.2,968.8 1459.7,965.5 1461.3,982.1 1462.8,985.4 1464.4,992.0 1465.9,992.0 1467.4,985.4 1469.0,975.4 1470.5,972.1 1472.1,975.4 1473.6,982.1 1475.2,978.8 1476.7,972.1 1478.3,972.1 1479.8,975.4 1481.3,975.4 1482.9,972.1 1484.4,968.8 1486.0,965.5 1487.5,965.5 1489.1,962.2 1490.6,958.9 1492.2,958.9 1493.7,972.1 1495.2,968.8 1496.8,975.4 1498.3,968.8 1499.9,972.1 1501.4,978.8 1503.0,982.1 1504.5,978.8 1506.1,975.4 1507.6,972.1 1509.1,965.5 1510.7,965.5 1512.2,955.6 1513.8,965.5 1515.3,978.8 1516.9,975.4 1518.4,968.8 1520.0,962.2 1521.5,958.9 1523.0,958.9 1524.6,965.5 1526.1,968.8 1527.7,978.8 1529.2,972.1 1530.8,968.8 1532.3,958.9 1533.9,965.5 1535.4,972.1 1536.9,972.1 1538.5,965.5 1540.0,975.4 1541.6,975.4 1543.1,985.4 1544.7,988.7 1546.2,978.8 1547.8,968.8 1549.3,958.9 1550.8,958.9 1552.4,962.2 1553.9,952.3 1555.5,945.7 1557.0,965.5 1558.6,965.5 1560.1,958.9 1561.7,968.8 1563.2,958.9 1564.7,958.9 1566.3,952.3 1567.8,958.9 1569.4,968.8 1570.9,952.3 1572.5,942.4 1574.0,952.3 1575.6,962.2 1577.1,958.9 1578.6,952.3 1580.2,962.2 1581.7,962.2 1583.3,952.3 1584.8,949.0 1586.4,955.6 1587.9,965.5 1589.5,958.9 1591.0,945.7 1592.5,955.6 1594.1,955.6 1595.6,952.3 1597.2,945.7 1598.7,972.1 1600.3,962.2 1601.8,949.0 1603.4,939.1 1604.9,942.4 1606.4,939.1 1608.0,942.4 1609.5,929.1 1611.1,932.4 1612.6,929.1 1614.2,932.4 1615.7,932.4 1617.3,925.8 1618.8,942.4 1620.3,932.4 1621.9,919.2 1623.4,949.0 1625.0,942.4 1626.5,942.4 1628.1,932.4 1629.6,929.1 1631.2,935.8 1632.7,952.3 1634.2,945.7 1635.8,942.4 1637.3,949.0 1638.9,939.1 1640.4,935.8 1642.0,932.4 1643.5,932.4 1645.1,929.1 1646.6,945.7 1648.1,955.6 1649.7,965.5 1651.2,955.6 1652.8,945.7 1654.3,935.8 1655.9,939.1 1657.4,942.4 1659.0,945.7 1660.5,949.0 1662.0,919.2 1663.6,892.8 1665.1,906.0 1666.7,919.2 1668.2,902.7 1669.8,886.1 1671.3,899.4 1672.9,909.3 1674.4,902.7 1675.9,892.8 1677.5,882.8 1679.0,876.2 1680.6,866.3 1682.1,886.1 1683.7,869.6 1685.2,882.8 1686.8,896.1 1688.3,909.3 1689.8,886.1 1691.4,866.3 1692.9,872.9 1694.5,876.2 1696.0,882.8 1697.6,899.4 1699.1,919.2 1700.7,915.9 1702.2,915.9 1703.7,912.6 1705.3,915.9 1706.8,922.5 1708.4,915.9 1709.9,929.1 1711.5,932.4 1713.0,922.5 1714.6,919.2 1716.1,942.4 1717.6,929.1 1719.2,915.9 1720.7,902.7 1722.3,912.6 1723.8,902.7 1725.4,912.6 1726.9,925.8 1728.5,939.1 1730.0,939.1 1731.5,942.4 1733.1,935.8 1734.6,932.4 1736.2,955.6 1737.7,978.8 1739.3,972.1 1740.8,962.2 1742.4,972.1 1743.9,982.1 1745.4,975.4 1747.0,968.8 1748.5,978.8 1750.1,985.4 1751.6,978.8 1753.2,972.1 1754.7,965.5 1756.3,958.9 1757.8,968.8 1759.3,968.8 1760.9,962.2 1762.4,949.0 1764.0,935.8 1765.5,922.5 1767.1,929.1 1768.6,945.7 1770.2,955.6 1771.7,935.8 1773.2,942.4 1774.8,949.0 1776.3,949.0 1777.9,942.4 1779.4,945.7 1781.0,945.7 1782.5,952.3 1784.1,939.1 1785.6,955.6 1787.1,952.3 1788.7,949.0 1790.2,952.3 1791.8,955.6 1793.3,945.7 1794.9,955.6 1796.4,952.3 1798.0,952.3 1799.5,955.6 1801.1,958.9 1802.6,952.3 1804.1,945.7 1805.7,949.0 1807.2,952.3 1808.8,952.3 1810.3,955.6 1811.9,965.5 1813.4,968.8 1815.0,972.1 1816.5,972.1 1818.0,965.5 1819.6,962.2 1821.1,972.1 1822.7,952.3 1824.2,952.3 1825.8,949.0 1827.3,945.7 1828.9,945.7 1830.4,949.0 1831.9,952.3 1833.5,955.6 1835.0,958.9 1836.6,955.6 1838.1,952.3 1839.7,952.3 1841.2,958.9 1842.8,962.2 1844.3,949.0 1845.8,972.1 1847.4,942.4 1848.9,939.1 1850.5,935.8 1852.0,945.7 1853.6,945.7 1855.1,952.3 1856.7,955.6 1858.2,955.6 1859.7,958.9 1861.3,958.9 1862.8,952.3 1864.4,958.9 1865.9,962.2 1867.5,952.3 1869.0,945.7 1870.6,939.1 1872.1,942.4 1873.6,945.7 1875.2,945.7 1876.7,942.4 1878.3,939.1 1879.8,942.4 1881.4,952.3 1882.9,958.9 1884.5,949.0 1886.0,945.7 1887.5,949.0 1889.1,945.7 1890.6,932.4 1892.2,939.1 1893.7,945.7 1895.3,929.1 1896.8,929.1 1898.4,929.1 1899.9,929.1 1901.4,935.8 1903.0,945.7 1904.5,949.0 1906.1,939.1 1907.6,945.7 1909.2,949.0 1910.7,952.3 1912.3,958.9 1913.8,945.7 1915.3,929.1 1916.9,945.7 1918.4,958.9 1920.0,952.3 1921.5,945.7 1923.1,942.4 1924.6,945.7 1926.2,968.8 1927.7,965.5 1929.2,962.2 1930.8,955.6 1932.3,942.4 1933.9,935.8 1935.4,932.4 1937.0,925.8 1938.5,922.5 1940.1,925.8 1941.6,925.8 1943.1,932.4 1944.7,935.8 1946.2,925.8 1947.8,915.9 1949.3,932.4 1950.9,955.6 1952.4,949.0 1954.0,942.4 1955.5,935.8 1957.0,929.1 1958.6,935.8 1960.1,945.7 1961.7,942.4 1963.2,939.1 1964.8,949.0 1966.3,949.0 1967.9,955.6 1969.4,949.0 1970.9,952.3 1972.5,945.7 1974.0,942.4 1975.6,939.1 1977.1,949.0 1978.7,952.3 1980.2,945.7 1981.8,939.1 1983.3,935.8 1984.8,925.8 1986.4,939.1 1987.9,952.3 1989.5,939.1 1991.0,932.4 1992.6,945.7 1994.1,955.6 1995.7,945.7 1997.2,932.4 1998.7,929.1 2000.3,915.9 2001.8,922.5 2003.4,929.1 2004.9,932.4 2006.5,939.1 2008.0,942.4 2009.6,935.8 2011.1,932.4 2012.6,922.5 2014.2,919.2 2015.7,922.5 2017.3,925.8 2018.8,925.8 2020.4,932.4 2021.9,942.4 2023.5,949.0 2025.0,942.4 2026.5,935.8 2028.1,939.1 2029.6,942.4 2031.2,939.1 2032.7,935.8 2034.3,939.1 2035.8,945.7 2037.4,949.0 2038.9,955.6 2040.4,939.1 2042.0,952.3 2043.5,958.9 2045.1,955.6 2046.6,955.6 2048.2,952.3 2049.7,949.0 2051.3,942.4 2052.8,935.8 2054.3,942.4 2055.9,942.4 2057.4,952.3 2059.0,949.0 2060.5,935.8 2062.1,939.1 2063.6,945.7 2065.2,949.0 2066.7,939.1 2068.2,932.4 2069.8,942.4 2071.3,952.3 2072.9,942.4 2074.4,932.4 2076.0,925.8 2077.5,929.1 2079.1,922.5 2080.6,925.8 2082.1,932.4 2083.7,939.1 2085.2,942.4 2086.8,942.4 2088.3,925.8 2089.9,942.4 2091.4,945.7 2093.0,942.4 2094.5,915.9 2096.0,909.3 2097.6,915.9 2099.1,925.8 2100.7,922.5 2102.2,942.4 2103.8,929.1 2105.3,939.1 2106.9,945.7 2108.4,935.8 2109.9,929.1 2111.5,939.1 2113.0,949.0 2114.6,945.7 2116.1,942.4 2117.7,939.1 2119.2,952.3 2120.8,962.2 2122.3,958.9 2123.8,955.6 2125.4,949.0 2126.9,949.0 2128.5,962.2 2130.0,955.6 2131.6,945.7 2133.1,949.0 2134.7,962.2 2136.2,952.3 2137.7,949.0 2139.3,962.2 2140.8,935.8 2142.4,932.4 2143.9,925.8 2145.5,932.4 2147.0,942.4 2148.6,949.0 2150.1,945.7 2151.6,939.1 2153.2,932.4 2154.7,925.8 2156.3,935.8 2157.8,942.4 2159.4,929.1 2160.9,925.8 2162.5,935.8 2164.0,945.7 2165.5,939.1 2167.1,925.8 2168.6,935.8 2170.2,935.8 2171.7,922.5 2173.3,919.2 2174.8,912.6 2176.4,939.1 2177.9,932.4 2179.4,922.5 2181.0,932.4 2182.5,939.1 2184.1,942.4 2185.6,945.7 2187.2,952.3 2188.7,955.6 2190.3,942.4 2191.8,939.1 2193.3,945.7 2194.9,949.0 2196.4,945.7 2198.0,935.8 2199.5,942.4 2201.1,932.4 2202.6,949.0 2204.2,962.2 2205.7,955.6 2207.2,952.3 2208.8,942.4 2210.3,922.5 2211.9,922.5 2213.4,929.1 2215.0,935.8 2216.5,939.1 2218.1,929.1 2219.6,919.2 2221.1,925.8 2222.7,925.8 2224.2,922.5 2225.8,912.6 2227.3,909.3 2228.9,902.7 2230.4,906.0 2232.0,919.2 2233.5,925.8 2235.0,932.4 2236.6,939.1 2238.1,929.1 2239.7,919.2 2241.2,912.6 2242.8,902.7 2244.3,902.7 2245.9,906.0 2247.4,906.0 2248.9,932.4 2250.5,935.8 2252.0,939.1 2253.6,939.1 2255.1,935.8 2256.7,925.8 2258.2,915.9 2259.8,919.2 2261.3,925.8 2262.8,929.1 2264.4,919.2 2265.9,912.6 2267.5,902.7 2269.0,909.3 2270.6,915.9 2272.1,919.2 2273.7,922.5 2275.2,925.8 2276.7,929.1 2278.3,932.4 2279.8,935.8 2281.4,932.4 2282.9,929.1 2284.5,925.8 2286.0,915.9 2287.6,899.4 2289.1,909.3 2290.6,922.5 2292.2,932.4 2293.7,929.1 2295.3,915.9 2296.8,909.3 2298.4,929.1 2299.9,949.0 2301.5,935.8 2303.0,919.2 2304.5,919.2 2306.1,929.1 2307.6,939.1 2309.2,949.0 2310.7,945.7 2312.3,935.8 2313.8,929.1 2315.4,939.1 2316.9,942.4 2318.4,919.2 2320.0,925.8 2321.5,935.8 2323.1,955.6 2324.6,949.0 2326.2,945.7 2327.7,942.4 2329.3,935.8 2330.8,922.5 2332.3,922.5 2333.9,909.3 2335.4,919.2 2337.0,929.1 2338.5,935.8 2340.1,939.1 2341.6,945.7 2343.2,939.1 2344.7,932.4 2346.2,939.1 2347.8,945.7 2349.3,939.1 2350.9,935.8 2352.4,935.8 2354.0,935.8 2355.5,925.8 2357.1,919.2 2358.6,929.1 2360.1,939.1 2361.7,932.4 2363.2,929.1 2364.8,925.8 2366.3,919.2 2367.9,925.8 2369.4,932.4 2371.0,919.2 2372.5,902.7 2374.0,902.7 2375.6,915.9 2377.1,932.4 2378.7,945.7 2380.2,932.4 2381.8,919.2 2383.3,929.1 2384.9,932.4 2386.4,939.1 2387.9,939.1 2389.5,935.8 2391.0,932.4 2392.6,929.1 2394.1,929.1 2395.7,925.8 2397.2,932.4 2398.8,945.7 2400.3,949.0 2401.8,935.8 2403.4,949.0 2404.9,929.1 2406.5,962.2 2408.0,952.3 2409.6,942.4 2411.1,945.7 2412.7,939.1 2414.2,939.1 2415.7,949.0 2417.3,939.1 2418.8,929.1 2420.4,932.4 2421.9,925.8 2423.5,919.2 2425.0,949.0 2426.6,922.5 2428.1,899.4 2429.6,906.0 2431.2,912.6 2432.7,899.4 2434.3,872.9 2435.8,839.8 2437.4,859.7 2438.9,882.8 2440.5,899.4 2442.0,863.0 2443.5,872.9 2445.1,886.1 2446.6,859.7 2448.2,872.9 2449.7,889.4 2451.3,869.6 2452.8,886.1 2454.4,896.1 2455.9,882.8 2457.4,863.0 2459.0,869.6 2460.5,866.3 2462.1,872.9 2463.6,882.8 2465.2,872.9 2466.7,869.6 2468.3,886.1 2469.8,882.8 2471.4,882.8 2472.9,879.5 2474.4,899.4 2476.0,906.0 2477.5,915.9 2479.1,906.0 2480.6,896.1 2482.2,889.4 2483.7,902.7 2485.3,912.6 2486.8,896.1 2488.3,915.9 2489.9,909.3 2491.4,902.7 2493.0,902.7 2494.5,902.7 2496.1,909.3 2497.6,919.2 2499.2,899.4 2500.7,899.4 2502.2,902.7 2503.8,912.6 2505.3,919.2 2506.9,902.7 2508.4,889.4 2510.0,915.9 2511.5,902.7 2513.1,899.4 2514.6,925.8 2516.1,919.2 2517.7,909.3 2519.2,906.0 2520.8,919.2 2522.3,932.4 2523.9,919.2 2525.4,906.0 2527.0,942.4 2528.5,942.4 2530.0,932.4 2531.6,935.8 2533.1,932.4 2534.7,939.1 2536.2,919.2 2537.8,929.1 2539.3,939.1 2540.9,949.0 2542.4,939.1 2543.9,929.1 2545.5,929.1 2547.0,935.8 2548.6,929.1 2550.1,942.4 2551.7,932.4 2553.2,929.1 2554.8,935.8 2556.3,925.8 2557.8,912.6 2559.4,909.3 2560.9,906.0 2562.5,915.9 2564.0,915.9 2565.6,899.4 2567.1,912.6 2568.7,922.5 2570.2,906.0 2571.7,912.6 2573.3,912.6 2574.8,925.8 2576.4,935.8 2577.9,935.8 2579.5,945.7 2581.0,939.1 2582.6,935.8 2584.1,939.1 2585.6,945.7 2587.2,932.4 2588.7,939.1 2590.3,942.4 2591.8,949.0 2593.4,945.7 2594.9,939.1 2596.5,945.7 2598.0,935.8 2599.5,915.9 2601.1,945.7 2602.6,949.0 2604.2,942.4 2605.7,932.4 2607.3,929.1 2608.8,922.5 2610.4,939.1 2611.9,935.8 2613.4,932.4 2615.0,925.8 2616.5,929.1 2618.1,939.1 2619.6,915.9 2621.2,922.5 2622.7,919.2 2624.3,922.5 2625.8,922.5 2627.3,912.6 2628.9,922.5 2630.4,935.8 2632.0,919.2 2633.5,939.1 2635.1,929.1 2636.6,922.5 2638.2,925.8 2639.7,935.8 2641.2,935.8 2642.8,932.4 2644.3,922.5 2645.9,929.1 2647.4,932.4 2649.0,912.6 2650.5,915.9 2652.1,919.2 2653.6,919.2 2655.1,925.8 2656.7,915.9 2658.2,919.2 2659.8,925.8 2661.3,925.8 2662.9,922.5 2664.4,919.2 2666.0,925.8 2667.5,929.1 2669.0,915.9 2670.6,915.9 2672.1,915.9 2673.7,929.1 2675.2,919.2 2676.8,915.9 2678.3,919.2 2679.9,925.8 2681.4,912.6 2682.9,922.5 2684.5,935.8 2686.0,945.7 2687.6,935.8 2689.1,919.2 2690.7,939.1 2692.2,922.5 2693.8,906.0 2695.3,919.2 2696.8,929.1 2698.4,915.9 2699.9,906.0 2701.5,892.8 2703.0,886.1 2704.6,892.8 2706.1,899.4 2707.7,909.3 2709.2,896.1 2710.7,892.8 2712.3,899.4 2713.8,906.0 2715.4,912.6 2716.9,909.3 2718.5,902.7 2720.0,876.2 2721.6,866.3 2723.1,843.1 2724.6,866.3 2726.2,882.8 2727.7,882.8 2729.3,882.8 2730.8,902.7 2732.4,889.4 2733.9,886.1 2735.5,915.9 2737.0,889.4 2738.5,899.4 2740.1,906.0 2741.6,889.4 2743.2,912.6 2744.7,886.1 2746.3,922.5 2747.8,909.3 2749.4,912.6 2750.9,919.2 2752.4,906.0 2754.0,886.1 2755.5,869.6 2757.1,879.5 2758.6,872.9 2760.2,879.5 2761.7,879.5 2763.3,849.8 2764.8,853.1 2766.3,856.4 2767.9,879.5 2769.4,876.2 2771.0,872.9 2772.5,896.1 2774.1,896.1 2775.6,896.1 2777.2,912.6 2778.7,925.8 2780.2,925.8 2781.8,919.2 2783.3,925.8 2784.9,919.2 2786.4,919.2 2788.0,922.5 2789.5,968.8 2791.1,968.8 2792.6,965.5 2794.1,962.2 2795.7,965.5 2797.2,972.1 2798.8,975.4 2800.3,968.8 2801.9,968.8" fill="none" stroke="#ff0000" stroke-width="3.75" stroke-linejoin="round" stroke-linecap="square"/>
<path d="M519.1,1226.8 520.7,1233.4 522.2,1233.4 523.8,1233.4 525.3,1230.1 526.9,1236.7 528.4,1236.7 530.0,1240.0 531.5,1240.0 533.0,1240.0 534.6,1240.0 536.1,1240.0 537.7,1233.4 539.2,1226.8 540.8,1230.1 542.3,1236.7 543.9,1236.7 545.4,1230.1 546.9,1226.8 548.5,1230.1 550.0,1230.1 551.6,1233.4 553.1,1236.7 554.7,1233.4 556.2,1233.4 557.8,1233.4 559.3,1230.1 560.8,1236.7 562.4,1236.7 563.9,1230.1 565.5,1236.7 567.0,1236.7 568.6,1236.7 570.1,1240.0 571.7,1240.0 573.2,1243.3 574.7,1240.0 576.3,1236.7 577.8,1240.0 579.4,1240.0 580.9,1236.7 582.5,1236.7 584.0,1240.0 585.6,1240.0 587.1,1240.0 588.6,1240.0 590.2,1240.0 591.7,1236.7 593.3,1236.7 594.8,1233.4 596.4,1236.7 597.9,1236.7 599.5,1240.0 601.0,1236.7 602.5,1240.0 604.1,1240.0 605.6,1233.4 607.2,1236.7 608.7,1236.7 610.3,1236.7 611.8,1236.7 613.4,1240.0 614.9,1243.3 616.4,1246.7 618.0,1243.3 619.5,1246.7 621.1,1240.0 622.6,1240.0 624.2,1236.7 625.7,1243.3 627.3,1240.0 628.8,1240.0 630.3,1240.0 631.9,1240.0 633.4,1240.0 635.0,1246.7 636.5,1240.0 638.1,1236.7 639.6,1233.4 641.2,1230.1 642.7,1230.1 644.2,1230.1 645.8,1230.1 647.3,1233.4 648.9,1236.7 650.4,1236.7 652.0,1236.7 653.5,1233.4 655.1,1236.7 656.6,1236.7 658.1,1236.7 659.7,1233.4 661.2,1236.7 662.8,1240.0 664.3,1236.7 665.9,1236.7 667.4,1233.4 669.0,1240.0 670.5,1236.7 672.0,1236.7 673.6,1230.1 675.1,1236.7 676.7,1230.1 678.2,1230.1 679.8,1236.7 681.3,1230.1 682.9,1226.8 684.4,1230.1 685.9,1226.8 687.5,1230.1 689.0,1236.7 690.6,1236.7 692.1,1233.4 693.7,1233.4 695.2,1233.4 696.8,1230.1 698.3,1233.4 699.8,1226.8 701.4,1230.1 702.9,1230.1 704.5,1226.8 706.0,1233.4 707.6,1233.4 709.1,1236.7 710.7,1226.8 712.2,1230.1 713.7,1233.4 715.3,1236.7 716.8,1236.7 718.4,1236.7 719.9,1233.4 721.5,1233.4 723.0,1236.7 724.6,1236.7 726.1,1236.7 727.6,1236.7 729.2,1243.3 730.7,1236.7 732.3,1243.3 733.8,1236.7 735.4,1236.7 736.9,1240.0 738.5,1236.7 740.0,1240.0 741.5,1240.0 743.1,1240.0 744.6,1233.4 746.2,1230.1 747.7,1233.4 749.3,1233.4 750.8,1236.7 752.4,1240.0 753.9,1236.7 755.4,1233.4 757.0,1236.7 758.5,1236.7 760.1,1236.7 761.6,1240.0 763.2,1240.0 764.7,1236.7 766.3,1236.7 767.8,1236.7 769.3,1236.7 770.9,1236.7 772.4,1233.4 774.0,1236.7 775.5,1233.4 777.1,1233.4 778.6,1233.4 780.2,1233.4 781.7,1233.4 783.2,1236.7 784.8,1233.4 786.3,1240.0 787.9,1243.3 789.4,1236.7 791.0,1236.7 792.5,1236.7 794.1,1233.4 795.6,1226.8 797.1,1230.1 798.7,1226.8 800.2,1230.1 801.8,1226.8 803.3,1226.8 804.9,1226.8 806.4,1226.8 808.0,1233.4 809.5,1233.4 811.0,1230.1 812.6,1230.1 814.1,1233.4 815.7,1236.7 817.2,1236.7 818.8,1240.0 820.3,1240.0 821.9,1240.0 823.4,1240.0 824.9,1240.0 826.5,1243.3 828.0,1243.3 829.6,1236.7 831.1,1236.7 832.7,1233.4 834.2,1233.4 835.8,1233.4 837.3,1236.7 838.8,1233.4 840.4,1233.4 841.9,1233.4 843.5,1236.7 845.0,1233.4 846.6,1240.0 848.1,1236.7 849.7,1240.0 851.2,1240.0 852.7,1236.7 854.3,1230.1 855.8,1230.1 857.4,1233.4 858.9,1236.7 860.5,1236.7 862.0,1236.7 863.6,1233.4 865.1,1233.4 866.6,1233.4 868.2,1226.8 869.7,1230.1 871.3,1226.8 872.8,1233.4 874.4,1233.4 875.9,1236.7 877.5,1240.0 879.0,1240.0 880.5,1236.7 882.1,1240.0 883.6,1240.0 885.2,1233.4 886.7,1236.7 888.3,1233.4 889.8,1236.7 891.4,1240.0 892.9,1236.7 894.4,1236.7 896.0,1236.7 897.5,1243.3 899.1,1240.0 900.6,1240.0 902.2,1233.4 903.7,1240.0 905.3,1236.7 906.8,1236.7 908.3,1236.7 909.9,1233.4 911.4,1236.7 913.0,1236.7 914.5,1240.0 916.1,1230.1 917.6,1230.1 919.2,1233.4 920.7,1233.4 922.2,1226.8 923.8,1220.2 925.3,1220.2 926.9,1216.9 928.4,1216.9 930.0,1226.8 931.5,1223.5 933.1,1223.5 934.6,1230.1 936.1,1230.1 937.7,1233.4 939.2,1226.8 940.8,1230.1 942.3,1233.4 943.9,1236.7 945.4,1233.4 947.0,1233.4 948.5,1230.1 950.0,1233.4 951.6,1230.1 953.1,1230.1 954.7,1230.1 956.2,1230.1 957.8,1233.4 959.3,1230.1 960.9,1233.4 962.4,1233.4 963.9,1240.0 965.5,1236.7 967.0,1226.8 968.6,1226.8 970.1,1233.4 971.7,1233.4 973.2,1230.1 974.8,1230.1 976.3,1226.8 977.8,1230.1 979.4,1230.1 980.9,1233.4 982.5,1240.0 984.0,1236.7 985.6,1233.4 987.1,1230.1 988.7,1230.1 990.2,1230.1 991.7,1233.4 993.3,1233.4 994.8,1236.7 996.4,1236.7 997.9,1240.0 999.5,1236.7 1001.0,1236.7 1002.6,1233.4 1004.1,1236.7 1005.6,1233.4 1007.2,1233.4 1008.7,1233.4 1010.3,1230.1 1011.8,1230.1 1013.4,1236.7 1014.9,1236.7 1016.5,1233.4 1018.0,1226.8 1019.5,1223.5 1021.1,1230.1 1022.6,1233.4 1024.2,1230.1 1025.7,1226.8 1027.3,1226.8 1028.8,1230.1 1030.4,1230.1 1031.9,1230.1 1033.4,1233.4 1035.0,1226.8 1036.5,1230.1 1038.1,1223.5 1039.6,1230.1 1041.2,1220.2 1042.7,1223.5 1044.3,1223.5 1045.8,1220.2 1047.3,1220.2 1048.9,1223.5 1050.4,1220.2 1052.0,1223.5 1053.5,1226.8 1055.1,1230.1 1056.6,1226.8 1058.2,1230.1 1059.7,1230.1 1061.2,1226.8 1062.8,1230.1 1064.3,1223.5 1065.9,1220.2 1067.4,1223.5 1069.0,1226.8 1070.5,1223.5 1072.1,1230.1 1073.6,1230.1 1075.1,1230.1 1076.7,1233.4 1078.2,1236.7 1079.8,1233.4 1081.3,1230.1 1082.9,1230.1 1084.4,1230.1 1086.0,1233.4 1087.5,1233.4 1089.0,1233.4 1090.6,1236.7 1092.1,1233.4 1093.7,1230.1 1095.2,1236.7 1096.8,1240.0 1098.3,1236.7 1099.9,1240.0 1101.4,1233.4 1102.9,1240.0 1104.5,1236.7 1106.0,1236.7 1107.6,1240.0 1109.1,1240.0 1110.7,1240.0 1112.2,1240.0 1113.8,1233.4 1115.3,1233.4 1116.8,1236.7 1118.4,1236.7 1119.9,1240.0 1121.5,1233.4 1123.0,1240.0 1124.6,1236.7 1126.1,1240.0 1127.7,1240.0 1129.2,1240.0 1130.8,1233.4 1132.3,1236.7 1133.8,1236.7 1135.4,1233.4 1136.9,1236.7 1138.5,1236.7 1140.0,1240.0 1141.6,1236.7 1143.1,1233.4 1144.7,1233.4 1146.2,1230.1 1147.7,1233.4 1149.3,1240.0 1150.8,1233.4 1152.4,1233.4 1153.9,1233.4 1155.5,1233.4 1157.0,1230.1 1158.6,1230.1 1160.1,1230.1 1161.6,1233.4 1163.2,1230.1 1164.7,1230.1 1166.3,1233.4 1167.8,1223.5 1169.4,1226.8 1170.9,1233.4 1172.5,1220.2 1174.0,1220.2 1175.5,1216.9 1177.1,1213.6 1178.6,1216.9 1180.2,1230.1 1181.7,1236.7 1183.3,1230.1 1184.8,1233.4 1186.4,1230.1 1187.9,1230.1 1189.4,1230.1 1191.0,1226.8 1192.5,1223.5 1194.1,1220.2 1195.6,1226.8 1197.2,1226.8 1198.7,1220.2 1200.3,1223.5 1201.8,1216.9 1203.3,1216.9 1204.9,1213.6 1206.4,1216.9 1208.0,1223.5 1209.5,1216.9 1211.1,1210.3 1212.6,1213.6 1214.2,1223.5 1215.7,1220.2 1217.2,1213.6 1218.8,1207.0 1220.3,1203.7 1221.9,1200.4 1223.4,1203.7 1225.0,1216.9 1226.5,1220.2 1228.1,1226.8 1229.6,1226.8 1231.1,1210.3 1232.7,1220.2 1234.2,1226.8 1235.8,1220.2 1237.3,1226.8 1238.9,1220.2 1240.4,1226.8 1242.0,1220.2 1243.5,1210.3 1245.0,1220.2 1246.6,1223.5 1248.1,1220.2 1249.7,1220.2 1251.2,1216.9 1252.8,1216.9 1254.3,1216.9 1255.9,1226.8 1257.4,1220.2 1258.9,1216.9 1260.5,1213.6 1262.0,1223.5 1263.6,1230.1 1265.1,1230.1 1266.7,1220.2 1268.2,1220.2 1269.8,1223.5 1271.3,1223.5 1272.8,1226.8 1274.4,1230.1 1275.9,1233.4 1277.5,1230.1 1279.0,1233.4 1280.6,1233.4 1282.1,1236.7 1283.7,1233.4 1285.2,1226.8 1286.7,1223.5 1288.3,1230.1 1289.8,1233.4 1291.4,1236.7 1292.9,1230.1 1294.5,1233.4 1296.0,1230.1 1297.6,1233.4 1299.1,1230.1 1300.6,1230.1 1302.2,1226.8 1303.7,1226.8 1305.3,1226.8 1306.8,1230.1 1308.4,1230.1 1309.9,1226.8 1311.5,1223.5 1313.0,1226.8 1314.5,1230.1 1316.1,1233.4 1317.6,1230.1 1319.2,1230.1 1320.7,1230.1 1322.3,1226.8 1323.8,1230.1 1325.4,1230.1 1326.9,1230.1 1328.4,1233.4 1330.0,1233.4 1331.5,1230.1 1333.1,1230.1 1334.6,1233.4 1336.2,1226.8 1337.7,1230.1 1339.3,1226.8 1340.8,1230.1 1342.3,1233.4 1343.9,1230.1 1345.4,1230.1 1347.0,1233.4 1348.5,1230.1 1350.1,1226.8 1351.6,1233.4 1353.2,1230.1 1354.7,1230.1 1356.2,1230.1 1357.8,1236.7 1359.3,1230.1 1360.9,1230.1 1362.4,1233.4 1364.0,1236.7 1365.5,1243.3 1367.1,1243.3 1368.6,1240.0 1370.1,1236.7 1371.7,1236.7 1373.2,1236.7 1374.8,1236.7 1376.3,1233.4 1377.9,1233.4 1379.4,1236.7 1381.0,1233.4 1382.5,1233.4 1384.0,1226.8 1385.6,1230.1 1387.1,1230.1 1388.7,1226.8 1390.2,1223.5 1391.8,1226.8 1393.3,1230.1 1394.9,1230.1 1396.4,1230.1 1397.9,1226.8 1399.5,1233.4 1401.0,1226.8 1402.6,1233.4 1404.1,1230.1 1405.7,1226.8 1407.2,1226.8 1408.8,1226.8 1410.3,1223.5 1411.8,1220.2 1413.4,1230.1 1414.9,1223.5 1416.5,1230.1 1418.0,1230.1 1419.6,1226.8 1421.1,1233.4 1422.7,1230.1 1424.2,1226.8 1425.7,1223.5 1427.3,1226.8 1428.8,1223.5 1430.4,1226.8 1431.9,1223.5 1433.5,1223.5 1435.0,1230.1 1436.6,1230.1 1438.1,1226.8 1439.6,1223.5 1441.2,1226.8 1442.7,1230.1 1444.3,1226.8 1445.8,1230.1 1447.4,1226.8 1448.9,1233.4 1450.5,1233.4 1452.0,1230.1 1453.5,1226.8 1455.1,1226.8 1456.6,1230.1 1458.2,1230.1 1459.7,1233.4 1461.3,1233.4 1462.8,1233.4 1464.4,1230.1 1465.9,1226.8 1467.4,1230.1 1469.0,1226.8 1470.5,1230.1 1472.1,1226.8 1473.6,1230.1 1475.2,1233.4 1476.7,1230.1 1478.3,1226.8 1479.8,1233.4 1481.3,1233.4 1482.9,1230.1 1484.4,1230.1 1486.0,1230.1 1487.5,1233.4 1489.1,1233.4 1490.6,1233.4 1492.2,1233.4 1493.7,1233.4 1495.2,1233.4 1496.8,1233.4 1498.3,1236.7 1499.9,1236.7 1501.4,1236.7 1503.0,1236.7 1504.5,1240.0 1506.1,1236.7 1507.6,1236.7 1509.1,1236.7 1510.7,1233.4 1512.2,1230.1 1513.8,1226.8 1515.3,1230.1 1516.9,1226.8 1518.4,1233.4 1520.0,1236.7 1521.5,1226.8 1523.0,1230.1 1524.6,1233.4 1526.1,1226.8 1527.7,1230.1 1529.2,1230.1 1530.8,1233.4 1532.3,1233.4 1533.9,1226.8 1535.4,1233.4 1536.9,1230.1 1538.5,1236.7 1540.0,1240.0 1541.6,1240.0 1543.1,1233.4 1544.7,1240.0 1546.2,1233.4 1547.8,1233.4 1549.3,1233.4 1550.8,1230.1 1552.4,1223.5 1553.9,1223.5 1555.5,1230.1 1557.0,1233.4 1558.6,1230.1 1560.1,1233.4 1561.7,1230.1 1563.2,1230.1 1564.7,1233.4 1566.3,1233.4 1567.8,1236.7 1569.4,1240.0 1570.9,1240.0 1572.5,1233.4 1574.0,1233.4 1575.6,1236.7 1577.1,1236.7 1578.6,1236.7 1580.2,1233.4 1581.7,1240.0 1583.3,1236.7 1584.8,1233.4 1586.4,1236.7 1587.9,1236.7 1589.5,1230.1 1591.0,1226.8 1592.5,1226.8 1594.1,1230.1 1595.6,1236.7 1597.2,1236.7 1598.7,1236.7 1600.3,1233.4 1601.8,1230.1 1603.4,1230.1 1604.9,1233.4 1606.4,1230.1 1608.0,1230.1 1609.5,1226.8 1611.1,1226.8 1612.6,1226.8 1614.2,1226.8 1615.7,1223.5 1617.3,1223.5 1618.8,1220.2 1620.3,1220.2 1621.9,1226.8 1623.4,1230.1 1625.0,1233.4 1626.5,1226.8 1628.1,1226.8 1629.6,1233.4 1631.2,1230.1 1632.7,1233.4 1634.2,1226.8 1635.8,1223.5 1637.3,1226.8 1638.9,1220.2 1640.4,1220.2 1642.0,1226.8 1643.5,1230.1 1645.1,1230.1 1646.6,1236.7 1648.1,1233.4 1649.7,1230.1 1651.2,1230.1 1652.8,1226.8 1654.3,1230.1 1655.9,1223.5 1657.4,1230.1 1659.0,1233.4 1660.5,1216.9 1662.0,1207.0 1663.6,1210.3 1665.1,1216.9 1666.7,1220.2 1668.2,1213.6 1669.8,1207.0 1671.3,1210.3 1672.9,1207.0 1674.4,1210.3 1675.9,1210.3 1677.5,1210.3 1679.0,1210.3 1680.6,1203.7 1682.1,1200.4 1683.7,1207.0 1685.2,1203.7 1686.8,1216.9 1688.3,1213.6 1689.8,1207.0 1691.4,1203.7 1692.9,1210.3 1694.5,1210.3 1696.0,1216.9 1697.6,1220.2 1699.1,1223.5 1700.7,1226.8 1702.2,1223.5 1703.7,1226.8 1705.3,1223.5 1706.8,1223.5 1708.4,1223.5 1709.9,1223.5 1711.5,1226.8 1713.0,1223.5 1714.6,1233.4 1716.1,1233.4 1717.6,1233.4 1719.2,1226.8 1720.7,1226.8 1722.3,1233.4 1723.8,1226.8 1725.4,1230.1 1726.9,1226.8 1728.5,1226.8 1730.0,1226.8 1731.5,1230.1 1733.1,1230.1 1734.6,1226.8 1736.2,1223.5 1737.7,1233.4 1739.3,1233.4 1740.8,1223.5 1742.4,1226.8 1743.9,1236.7 1745.4,1236.7 1747.0,1236.7 1748.5,1240.0 1750.1,1233.4 1751.6,1233.4 1753.2,1233.4 1754.7,1236.7 1756.3,1233.4 1757.8,1233.4 1759.3,1230.1 1760.9,1223.5 1762.4,1220.2 1764.0,1226.8 1765.5,1233.4 1767.1,1236.7 1768.6,1240.0 1770.2,1240.0 1771.7,1236.7 1773.2,1233.4 1774.8,1233.4 1776.3,1230.1 1777.9,1230.1 1779.4,1226.8 1781.0,1226.8 1782.5,1226.8 1784.1,1230.1 1785.6,1236.7 1787.1,1236.7 1788.7,1230.1 1790.2,1230.1 1791.8,1230.1 1793.3,1230.1 1794.9,1236.7 1796.4,1233.4 1798.0,1240.0 1799.5,1236.7 1801.1,1240.0 1802.6,1233.4 1804.1,1230.1 1805.7,1226.8 1807.2,1226.8 1808.8,1230.1 1810.3,1230.1 1811.9,1230.1 1813.4,1233.4 1815.0,1233.4 1816.5,1226.8 1818.0,1226.8 1819.6,1233.4 1821.1,1230.1 1822.7,1233.4 1824.2,1236.7 1825.8,1236.7 1827.3,1236.7 1828.9,1230.1 1830.4,1226.8 1831.9,1230.1 1833.5,1233.4 1835.0,1226.8 1836.6,1233.4 1838.1,1226.8 1839.7,1223.5 1841.2,1223.5 1842.8,1223.5 1844.3,1233.4 1845.8,1233.4 1847.4,1233.4 1848.9,1223.5 1850.5,1226.8 1852.0,1236.7 1853.6,1236.7 1855.1,1230.1 1856.7,1233.4 1858.2,1236.7 1859.7,1236.7 1861.3,1236.7 1862.8,1240.0 1864.4,1233.4 1865.9,1236.7 1867.5,1233.4 1869.0,1236.7 1870.6,1236.7 1872.1,1236.7 1873.6,1233.4 1875.2,1236.7 1876.7,1236.7 1878.3,1236.7 1879.8,1236.7 1881.4,1240.0 1882.9,1243.3 1884.5,1243.3 1886.0,1236.7 1887.5,1240.0 1889.1,1236.7 1890.6,1236.7 1892.2,1230.1 1893.7,1226.8 1895.3,1223.5 1896.8,1223.5 1898.4,1220.2 1899.9,1223.5 1901.4,1223.5 1903.0,1223.5 1904.5,1230.1 1906.1,1230.1 1907.6,1226.8 1909.2,1230.1 1910.7,1230.1 1912.3,1230.1 1913.8,1236.7 1915.3,1233.4 1916.9,1226.8 1918.4,1230.1 1920.0,1230.1 1921.5,1233.4 1923.1,1233.4 1924.6,1233.4 1926.2,1236.7 1927.7,1236.7 1929.2,1230.1 1930.8,1223.5 1932.3,1223.5 1933.9,1230.1 1935.4,1226.8 1937.0,1226.8 1938.5,1236.7 1940.1,1233.4 1941.6,1233.4 1943.1,1226.8 1944.7,1230.1 1946.2,1226.8 1947.8,1230.1 1949.3,1233.4 1950.9,1230.1 1952.4,1230.1 1954.0,1233.4 1955.5,1233.4 1957.0,1236.7 1958.6,1236.7 1960.1,1236.7 1961.7,1240.0 1963.2,1243.3 1964.8,1236.7 1966.3,1236.7 1967.9,1230.1 1969.4,1230.1 1970.9,1233.4 1972.5,1233.4 1974.0,1230.1 1975.6,1236.7 1977.1,1240.0 1978.7,1243.3 1980.2,1240.0 1981.8,1233.4 1983.3,1233.4 1984.8,1230.1 1986.4,1230.1 1987.9,1223.5 1989.5,1223.5 1991.0,1226.8 1992.6,1223.5 1994.1,1223.5 1995.7,1233.4 1997.2,1233.4 1998.7,1233.4 2000.3,1230.1 2001.8,1230.1 2003.4,1223.5 2004.9,1223.5 2006.5,1223.5 2008.0,1226.8 2009.6,1226.8 2011.1,1223.5 2012.6,1223.5 2014.2,1220.2 2015.7,1226.8 2017.3,1226.8 2018.8,1230.1 2020.4,1230.1 2021.9,1233.4 2023.5,1233.4 2025.0,1230.1 2026.5,1226.8 2028.1,1226.8 2029.6,1233.4 2031.2,1230.1 2032.7,1233.4 2034.3,1236.7 2035.8,1230.1 2037.4,1236.7 2038.9,1233.4 2040.4,1233.4 2042.0,1230.1 2043.5,1226.8 2045.1,1236.7 2046.6,1236.7 2048.2,1226.8 2049.7,1233.4 2051.3,1226.8 2052.8,1230.1 2054.3,1230.1 2055.9,1223.5 2057.4,1226.8 2059.0,1230.1 2060.5,1230.1 2062.1,1226.8 2063.6,1223.5 2065.2,1220.2 2066.7,1220.2 2068.2,1216.9 2069.8,1220.2 2071.3,1216.9 2072.9,1220.2 2074.4,1223.5 2076.0,1223.5 2077.5,1223.5 2079.1,1216.9 2080.6,1216.9 2082.1,1230.1 2083.7,1223.5 2085.2,1220.2 2086.8,1223.5 2088.3,1223.5 2089.9,1226.8 2091.4,1226.8 2093.0,1226.8 2094.5,1220.2 2096.0,1216.9 2097.6,1220.2 2099.1,1216.9 2100.7,1223.5 2102.2,1230.1 2103.8,1230.1 2105.3,1233.4 2106.9,1233.4 2108.4,1233.4 2109.9,1233.4 2111.5,1230.1 2113.0,1230.1 2114.6,1223.5 2116.1,1226.8 2117.7,1220.2 2119.2,1226.8 2120.8,1226.8 2122.3,1226.8 2123.8,1220.2 2125.4,1213.6 2126.9,1220.2 2128.5,1216.9 2130.0,1220.2 2131.6,1216.9 2133.1,1223.5 2134.7,1223.5 2136.2,1220.2 2137.7,1216.9 2139.3,1213.6 2140.8,1213.6 2142.4,1223.5 2143.9,1223.5 2145.5,1223.5 2147.0,1223.5 2148.6,1230.1 2150.1,1230.1 2151.6,1226.8 2153.2,1223.5 2154.7,1223.5 2156.3,1216.9 2157.8,1220.2 2159.4,1223.5 2160.9,1223.5 2162.5,1230.1 2164.0,1223.5 2165.5,1230.1 2167.1,1226.8 2168.6,1226.8 2170.2,1230.1 2171.7,1230.1 2173.3,1233.4 2174.8,1236.7 2176.4,1233.4 2177.9,1226.8 2179.4,1230.1 2181.0,1226.8 2182.5,1226.8 2184.1,1226.8 2185.6,1230.1 2187.2,1233.4 2188.7,1226.8 2190.3,1230.1 2191.8,1230.1 2193.3,1236.7 2194.9,1236.7 2196.4,1233.4 2198.0,1233.4 2199.5,1230.1 2201.1,1226.8 2202.6,1223.5 2204.2,1226.8 2205.7,1223.5 2207.2,1223.5 2208.8,1223.5 2210.3,1220.2 2211.9,1216.9 2213.4,1220.2 2215.0,1226.8 2216.5,1223.5 2218.1,1216.9 2219.6,1216.9 2221.1,1220.2 2222.7,1223.5 2224.2,1216.9 2225.8,1210.3 2227.3,1210.3 2228.9,1213.6 2230.4,1220.2 2232.0,1220.2 2233.5,1213.6 2235.0,1216.9 2236.6,1223.5 2238.1,1223.5 2239.7,1213.6 2241.2,1210.3 2242.8,1210.3 2244.3,1210.3 2245.9,1213.6 2247.4,1216.9 2248.9,1216.9 2250.5,1223.5 2252.0,1220.2 2253.6,1213.6 2255.1,1213.6 2256.7,1207.0 2258.2,1210.3 2259.8,1207.0 2261.3,1210.3 2262.8,1213.6 2264.4,1216.9 2265.9,1207.0 2267.5,1203.7 2269.0,1213.6 2270.6,1223.5 2272.1,1216.9 2273.7,1220.2 2275.2,1216.9 2276.7,1216.9 2278.3,1220.2 2279.8,1226.8 2281.4,1226.8 2282.9,1213.6 2284.5,1216.9 2286.0,1216.9 2287.6,1216.9 2289.1,1203.7 2290.6,1210.3 2292.2,1216.9 2293.7,1210.3 2295.3,1210.3 2296.8,1210.3 2298.4,1213.6 2299.9,1216.9 2301.5,1213.6 2303.0,1210.3 2304.5,1210.3 2306.1,1216.9 2307.6,1220.2 2309.2,1216.9 2310.7,1216.9 2312.3,1220.2 2313.8,1213.6 2315.4,1213.6 2316.9,1220.2 2318.4,1220.2 2320.0,1213.6 2321.5,1216.9 2323.1,1216.9 2324.6,1223.5 2326.2,1223.5 2327.7,1230.1 2329.3,1223.5 2330.8,1216.9 2332.3,1213.6 2333.9,1220.2 2335.4,1220.2 2337.0,1223.5 2338.5,1230.1 2340.1,1226.8 2341.6,1230.1 2343.2,1230.1 2344.7,1223.5 2346.2,1220.2 2347.8,1216.9 2349.3,1220.2 2350.9,1226.8 2352.4,1226.8 2354.0,1223.5 2355.5,1226.8 2357.1,1223.5 2358.6,1216.9 2360.1,1223.5 2361.7,1226.8 2363.2,1226.8 2364.8,1223.5 2366.3,1223.5 2367.9,1220.2 2369.4,1223.5 2371.0,1220.2 2372.5,1216.9 2374.0,1220.2 2375.6,1220.2 2377.1,1216.9 2378.7,1220.2 2380.2,1220.2 2381.8,1216.9 2383.3,1220.2 2384.9,1223.5 2386.4,1220.2 2387.9,1216.9 2389.5,1213.6 2391.0,1220.2 2392.6,1223.5 2394.1,1223.5 2395.7,1223.5 2397.2,1220.2 2398.8,1226.8 2400.3,1226.8 2401.8,1223.5 2403.4,1223.5 2404.9,1226.8 2406.5,1230.1 2408.0,1226.8 2409.6,1220.2 2411.1,1220.2 2412.7,1216.9 2414.2,1220.2 2415.7,1220.2 2417.3,1223.5 2418.8,1216.9 2420.4,1220.2 2421.9,1223.5 2423.5,1223.5 2425.0,1216.9 2426.6,1216.9 2428.1,1203.7 2429.6,1203.7 2431.2,1200.4 2432.7,1197.0 2434.3,1200.4 2435.8,1200.4 2437.4,1200.4 2438.9,1203.7 2440.5,1210.3 2442.0,1207.0 2443.5,1203.7 2445.1,1210.3 2446.6,1207.0 2448.2,1200.4 2449.7,1200.4 2451.3,1193.7 2452.8,1203.7 2454.4,1210.3 2455.9,1210.3 2457.4,1213.6 2459.0,1210.3 2460.5,1213.6 2462.1,1210.3 2463.6,1203.7 2465.2,1203.7 2466.7,1210.3 2468.3,1210.3 2469.8,1207.0 2471.4,1207.0 2472.9,1210.3 2474.4,1216.9 2476.0,1213.6 2477.5,1216.9 2479.1,1210.3 2480.6,1210.3 2482.2,1203.7 2483.7,1203.7 2485.3,1207.0 2486.8,1210.3 2488.3,1207.0 2489.9,1213.6 2491.4,1220.2 2493.0,1216.9 2494.5,1220.2 2496.1,1220.2 2497.6,1220.2 2499.2,1213.6 2500.7,1213.6 2502.2,1213.6 2503.8,1207.0 2505.3,1210.3 2506.9,1210.3 2508.4,1210.3 2510.0,1203.7 2511.5,1216.9 2513.1,1230.1 2514.6,1226.8 2516.1,1216.9 2517.7,1213.6 2519.2,1207.0 2520.8,1210.3 2522.3,1213.6 2523.9,1213.6 2525.4,1213.6 2527.0,1216.9 2528.5,1226.8 2530.0,1230.1 2531.6,1223.5 2533.1,1223.5 2534.7,1223.5 2536.2,1226.8 2537.8,1230.1 2539.3,1230.1 2540.9,1226.8 2542.4,1226.8 2543.9,1220.2 2545.5,1216.9 2547.0,1226.8 2548.6,1223.5 2550.1,1223.5 2551.7,1223.5 2553.2,1220.2 2554.8,1226.8 2556.3,1223.5 2557.8,1216.9 2559.4,1220.2 2560.9,1220.2 2562.5,1213.6 2564.0,1220.2 2565.6,1213.6 2567.1,1210.3 2568.7,1207.0 2570.2,1210.3 2571.7,1216.9 2573.3,1210.3 2574.8,1213.6 2576.4,1216.9 2577.9,1216.9 2579.5,1220.2 2581.0,1216.9 2582.6,1216.9 2584.1,1216.9 2585.6,1220.2 2587.2,1213.6 2588.7,1213.6 2590.3,1220.2 2591.8,1223.5 2593.4,1216.9 2594.9,1220.2 2596.5,1220.2 2598.0,1216.9 2599.5,1210.3 2601.1,1216.9 2602.6,1216.9 2604.2,1220.2 2605.7,1213.6 2607.3,1216.9 2608.8,1220.2 2610.4,1213.6 2611.9,1220.2 2613.4,1220.2 2615.0,1216.9 2616.5,1213.6 2618.1,1223.5 2619.6,1216.9 2621.2,1216.9 2622.7,1210.3 2624.3,1213.6 2625.8,1216.9 2627.3,1216.9 2628.9,1213.6 2630.4,1216.9 2632.0,1216.9 2633.5,1216.9 2635.1,1213.6 2636.6,1213.6 2638.2,1220.2 2639.7,1216.9 2641.2,1213.6 2642.8,1213.6 2644.3,1207.0 2645.9,1213.6 2647.4,1213.6 2649.0,1216.9 2650.5,1220.2 2652.1,1216.9 2653.6,1210.3 2655.1,1216.9 2656.7,1213.6 2658.2,1210.3 2659.8,1207.0 2661.3,1207.0 2662.9,1210.3 2664.4,1210.3 2666.0,1210.3 2667.5,1210.3 2669.0,1213.6 2670.6,1216.9 2672.1,1213.6 2673.7,1216.9 2675.2,1210.3 2676.8,1216.9 2678.3,1216.9 2679.9,1216.9 2681.4,1210.3 2682.9,1207.0 2684.5,1216.9 2686.0,1220.2 2687.6,1210.3 2689.1,1213.6 2690.7,1223.5 2692.2,1220.2 2693.8,1220.2 2695.3,1216.9 2696.8,1216.9 2698.4,1216.9 2699.9,1216.9 2701.5,1210.3 2703.0,1220.2 2704.6,1207.0 2706.1,1207.0 2707.7,1213.6 2709.2,1220.2 2710.7,1213.6 2712.3,1207.0 2713.8,1207.0 2715.4,1213.6 2716.9,1207.0 2718.5,1197.0 2720.0,1197.0 2721.6,1193.7 2723.1,1193.7 2724.6,1207.0 2726.2,1210.3 2727.7,1203.7 2729.3,1203.7 2730.8,1207.0 2732.4,1210.3 2733.9,1203.7 2735.5,1197.0 2737.0,1210.3 2738.5,1207.0 2740.1,1210.3 2741.6,1203.7 2743.2,1213.6 2744.7,1220.2 2746.3,1220.2 2747.8,1213.6 2749.4,1207.0 2750.9,1213.6 2752.4,1213.6 2754.0,1210.3 2755.5,1203.7 2757.1,1197.0 2758.6,1193.7 2760.2,1200.4 2761.7,1193.7 2763.3,1190.4 2764.8,1193.7 2766.3,1190.4 2767.9,1197.0 2769.4,1193.7 2771.0,1200.4 2772.5,1213.6 2774.1,1213.6 2775.6,1213.6 2777.2,1216.9 2778.7,1216.9 2780.2,1216.9 2781.8,1213.6 2783.3,1216.9 2784.9,1216.9 2786.4,1213.6 2788.0,1216.9 2789.5,1223.5 2791.1,1223.5 2792.6,1233.4 2794.1,1233.4 2795.7,1230.1 2797.2,1223.5 2798.8,1223.5 2800.3,1223.5 2801.9,1226.8" fill="none" stroke="#008000" stroke-width="3.75" stroke-linejoin="round" stroke-linecap="square"/>
</g>
<rect x="405.0" y="194" width="2511.0" height="1248.0" fill="none" stroke="#000" stroke-width="2"/>
<line x1="396.25" y1="1442.00" x2="405.0" y2="1442.00" stroke="#000" stroke-width="2"/>
<text x="386.9" y="1451.00" font-family="&quot;Liberation Sans&quot;, sans-serif" font-size="25" text-anchor="end" fill="#000" textLength="12.4" lengthAdjust="spacingAndGlyphs">0</text>
<line x1="396.25" y1="1276.00" x2="405.0" y2="1276.00" stroke="#000" stroke-width="2"/>
<text x="386.9" y="1285.00" font-family="&quot;Liberation Sans&quot;, sans-serif" font-size="25" text-anchor="end" fill="#000" textLength="24.8" lengthAdjust="spacingAndGlyphs">50</text>
<line x1="396.25" y1="1111.00" x2="405.0" y2="1111.00" stroke="#000" stroke-width="2"/>
<text x="386.9" y="1120.00" font-family="&quot;Liberation Sans&quot;, sans-serif" font-size="25" text-anchor="end" fill="#000" textLength="37.2" lengthAdjust="spacingAndGlyphs">100</text>
<line x1="396.25" y1="945.00" x2="405.0" y2="945.00" stroke="#000" stroke-width="2"/>
<text x="386.9" y="954.00" font-family="&quot;Liberation Sans&quot;, sans-serif" font-size="25" text-anchor="end" fill="#000" textLength="37.2" lengthAdjust="spacingAndGlyphs">150</text>
<line x1="396.25" y1="780.00" x2="405.0" y2="780.00" stroke="#000" stroke-width="2"/>
<text x="386.9" y="789.00" font-family="&quot;Liberation Sans&quot;, sans-serif" font-size="25" text-anchor="end" fill="#000" textLength="37.2" lengthAdjust="spacingAndGlyphs">200</text>
<line x1="396.25" y1="615.00" x2="405.0" y2="615.00" stroke="#000" stroke-width="2"/>
<text x="386.9" y="624.00" font-family="&quot;Liberation Sans&quot;, sans-serif" font-size="25" text-anchor="end" fill="#000" textLength="37.2" lengthAdjust="spacingAndGlyphs">250</text>
<line x1="396.25" y1="449.00" x2="405.0" y2="449.00" stroke="#000" stroke-width="2"/>
<text x="386.9" y="458.00" font-family="&quot;Liberation Sans&quot;, sans-serif" font-size="25" text-anchor="end" fill="#000" textLength="37.2" lengthAdjust="spacingAndGlyphs">300</text>
<line x1="396.25" y1="284.00" x2="405.0" y2="284.00" stroke="#000" stroke-width="2"/>
<text x="386.9" y="293.00" font-family="&quot;Liberation Sans&quot;, sans-serif" font-size="25" text-anchor="end" fill="#000" textLength="37.2" lengthAdjust="spacingAndGlyphs">350</text>
<line x1="520.00" y1="1442.0" x2="520.00" y2="1450.75" stroke="#000" stroke-width="2"/>
<text x="520.00" y="1477" font-family="&quot;Liberation Sans&quot;, sans-serif" font-size="25" text-anchor="middle" fill="#000" textLength="12.4" lengthAdjust="spacingAndGlyphs">0</text>
<line x1="829.00" y1="1442.0" x2="829.00" y2="1450.75" stroke="#000" stroke-width="2"/>
<text x="829.00" y="1477" font-family="&quot;Liberation Sans&quot;, sans-serif" font-size="25" text-anchor="middle" fill="#000" textLength="37.2" lengthAdjust="spacingAndGlyphs">200</text>
<line x1="1138.00" y1="1442.0" x2="1138.00" y2="1450.75" stroke="#000" stroke-width="2"/>
<text x="1138.00" y="1477" font-family="&quot;Liberation Sans&quot;, sans-serif" font-size="25" text-anchor="middle" fill="#000" textLength="37.2" lengthAdjust="spacingAndGlyphs">400</text>
<line x1="1446.00" y1="1442.0" x2="1446.00" y2="1450.75" stroke="#000" stroke-width="2"/>
<text x="1446.00" y="1477" font-family="&quot;Liberation Sans&quot;, sans-serif" font-size="25" text-anchor="middle" fill="#000" textLength="37.2" lengthAdjust="spacingAndGlyphs">600</text>
<line x1="1755.00" y1="1442.0" x2="1755.00" y2="1450.75" stroke="#000" stroke-width="2"/>
<text x="1755.00" y="1477" font-family="&quot;Liberation Sans&quot;, sans-serif" font-size="25" text-anchor="middle" fill="#000" textLength="37.2" lengthAdjust="spacingAndGlyphs">800</text>
<line x1="2064.00" y1="1442.0" x2="2064.00" y2="1450.75" stroke="#000" stroke-width="2"/>
<text x="2064.00" y="1477" font-family="&quot;Liberation Sans&quot;, sans-serif" font-size="25" text-anchor="middle" fill="#000" textLength="49.6" lengthAdjust="spacingAndGlyphs">1000</text>
<line x1="2373.00" y1="1442.0" x2="2373.00" y2="1450.75" stroke="#000" stroke-width="2"/>
<text x="2373.00" y="1477" font-family="&quot;Liberation Sans&quot;, sans-serif" font-size="25" text-anchor="middle" fill="#000" textLength="49.6" lengthAdjust="spacingAndGlyphs">1200</text>
<line x1="2682.00" y1="1442.0" x2="2682.00" y2="1450.75" stroke="#000" stroke-width="2"/>
<text x="2682.00" y="1477" font-family="&quot;Liberation Sans&quot;, sans-serif" font-size="25" text-anchor="middle" fill="#000" textLength="49.6" lengthAdjust="spacingAndGlyphs">1400</text>
<text x="1660.5" y="178" font-family="&quot;Liberation Mono&quot;, monospace" font-size="36" text-anchor="middle" fill="#000" textLength="336" lengthAdjust="spacingAndGlyphs">stock num tracking</text>
<text x="1497" y="1508" font-family="&quot;Liberation Mono&quot;, monospace" font-size="25" fill="#000" textLength="62" lengthAdjust="spacingAndGlyphs">date:</text>
<text x="1576.8" y="1508" font-family="&quot;Liberation Sans&quot;, sans-serif" font-size="25" fill="#000" textLength="113.8" lengthAdjust="spacingAndGlyphs">(20190102,</text>
<text x="1710.3" y="1508" font-family="&quot;Liberation Sans&quot;, sans-serif" font-size="25" fill="#000" textLength="107.5" lengthAdjust="spacingAndGlyphs">20250210)</text>
<text transform="translate(337.2,819.2) rotate(-90)" x="0" y="0" font-family="&quot;Liberation Sans&quot;, sans-serif" font-size="23" text-anchor="middle" fill="#000">stock_num</text>
<rect x="424.5" y="213.5" width="735.3" height="214.6" rx="8" ry="8" fill="#ffffff" fill-opacity="0.8" stroke="#cccccc" stroke-opacity="0.8" stroke-width="2.3"/>
<line x1="437" y1="241.80" x2="516" y2="241.80" stroke="#0000ff" stroke-width="3.75" stroke-linecap="butt"/>
<text x="543" y="253.70" font-family="&quot;Liberation Mono&quot;, monospace" font-size="37" fill="#000" textLength="391.9" lengthAdjust="spacingAndGlyphs">score_num, ave: 294.O</text>
<line x1="437" y1="293.00" x2="516" y2="293.00" stroke="#ff0000" stroke-width="3.75" stroke-linecap="butt"/>
<text x="543" y="304.65" font-family="&quot;Liberation Mono&quot;, monospace" font-size="37" fill="#000" textLength="597.1" lengthAdjust="spacingAndGlyphs">score_q8O_weight_num, ave: 149.O</text>
<line x1="437" y1="344.20" x2="516" y2="344.20" stroke="#008000" stroke-width="3.75" stroke-linecap="butt"/>
<text x="543" y="355.60" font-family="&quot;Liberation Mono&quot;, monospace" font-size="37" fill="#000" textLength="578.5" lengthAdjust="spacingAndGlyphs">score_q5O_weight_num, ave: 65.O</text>
<rect x="438.9" y="381.2" width="75.1" height="26.8" fill="#ffe4b5"/>
<text x="543" y="406.55" font-family="&quot;Liberation Mono&quot;, monospace" font-size="37" fill="#000" textLength="447.8" lengthAdjust="spacingAndGlyphs">realized_num, ave: 294.O</text>
</svg></body></html>
